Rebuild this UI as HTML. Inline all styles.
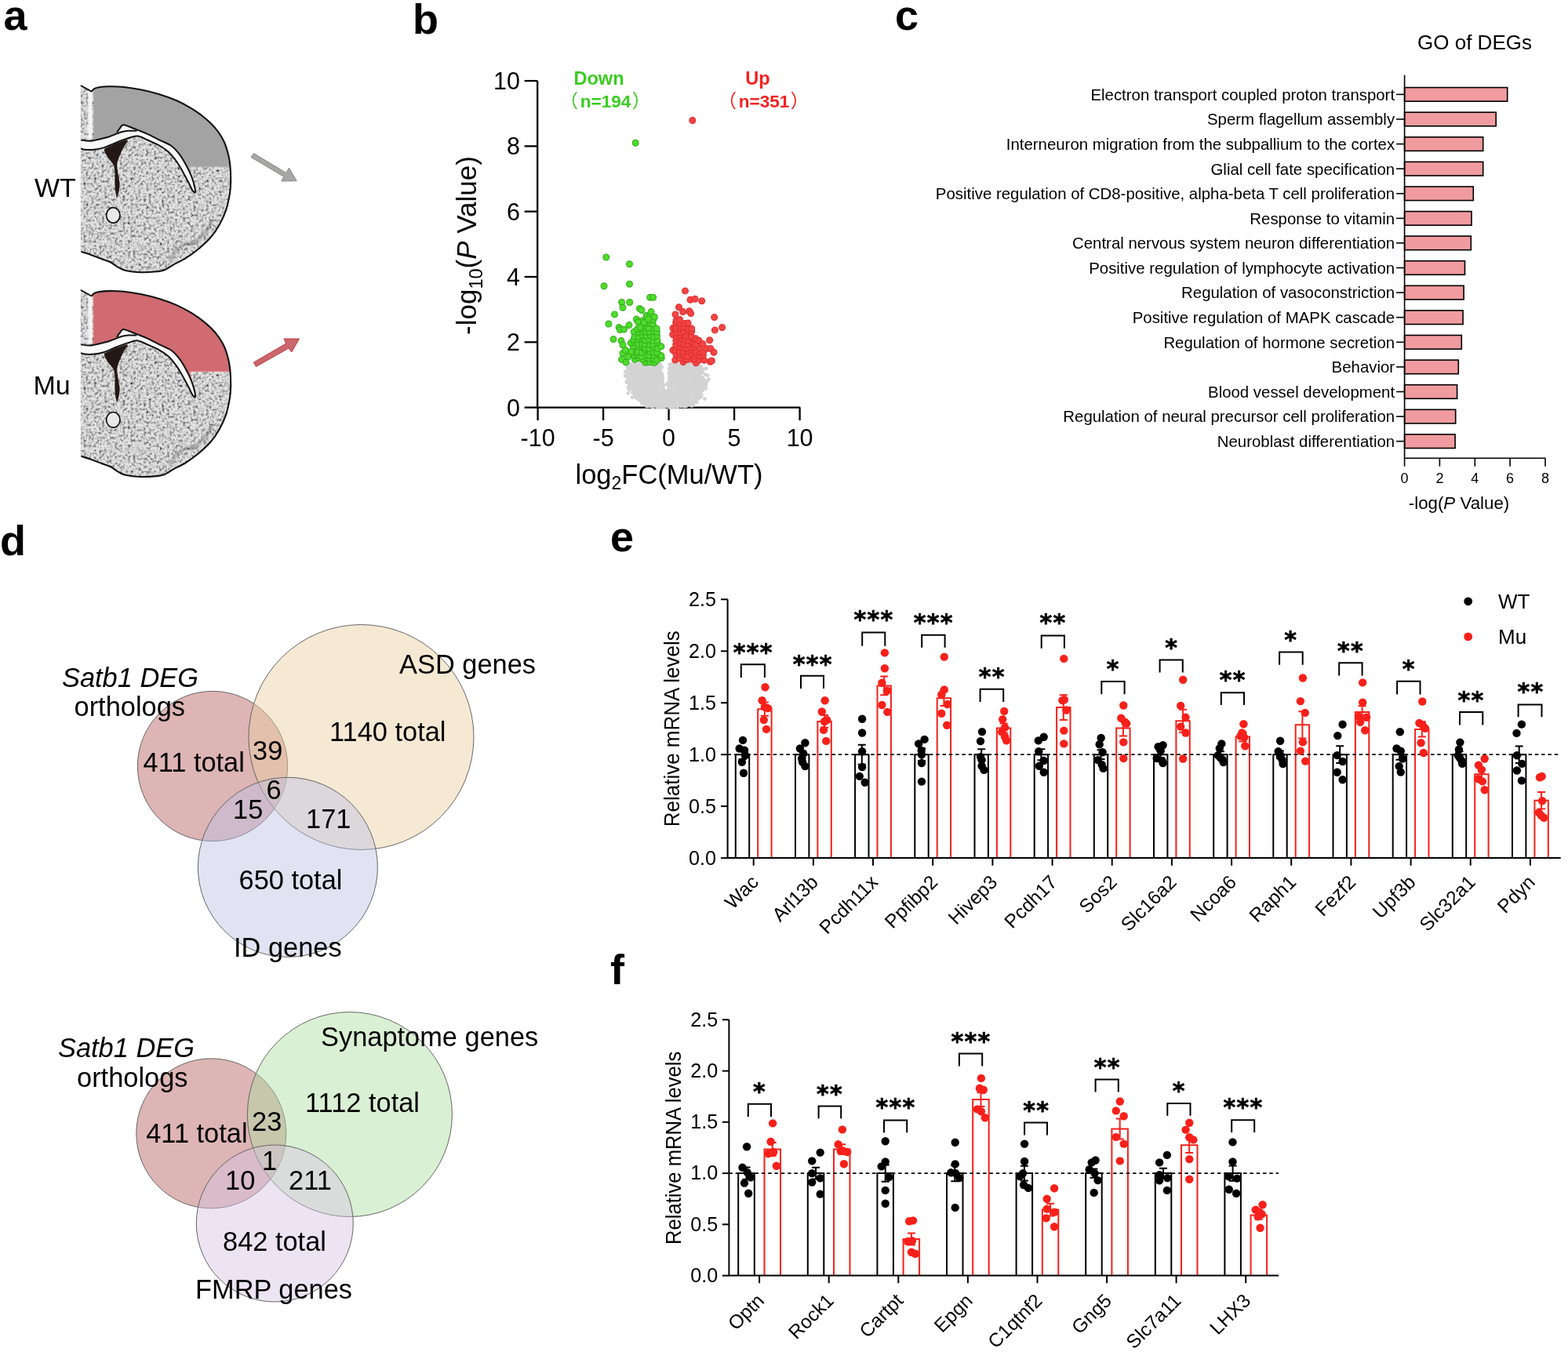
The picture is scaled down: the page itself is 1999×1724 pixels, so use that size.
<!DOCTYPE html>
<html><head><meta charset="utf-8"><title>Figure</title>
<style>html,body{margin:0;padding:0;background:#fff;overflow:hidden}svg{display:block}</style></head>
<body><svg xmlns="http://www.w3.org/2000/svg" width="1999" height="1724" viewBox="0 0 1999 1724">
<defs>
<filter id="stip" x="0" y="0" width="1" height="1">
<feTurbulence type="fractalNoise" baseFrequency="0.3" numOctaves="3" seed="4" result="t"/>
<feColorMatrix in="t" type="matrix" values="0 0 0 0 0  0 0 0 0 0  0 0 0 0 0  -2.2 0 0 0 1.3" result="dk"/>
<feComposite in="dk" in2="SourceAlpha" operator="in" result="d2"/>
<feMerge><feMergeNode in="SourceGraphic"/><feMergeNode in="d2"/></feMerge>
</filter>
<filter id="blur1"><feGaussianBlur stdDeviation="1.2"/></filter>
<path id="bOut" d="M117.1 116.9C117.5 116.4 117.9 114.5 119.4 113.6C120.9 112.7 123.0 111.8 126.2 111.3C129.3 110.8 133.0 110.3 138.3 110.3C143.6 110.2 150.9 110.3 157.9 111.0C164.9 111.7 173.0 113.0 180.5 114.5C188.0 116.0 195.7 118.0 203.1 120.3C210.5 122.6 218.5 125.4 225.2 128.3C231.8 131.2 237.6 134.4 243.0 137.6C248.4 140.8 253.2 144.2 257.5 147.5C261.8 150.8 265.5 154.0 269.0 157.5C272.5 161.0 275.7 164.6 278.5 168.5C281.3 172.4 283.8 176.6 285.8 181.0C287.8 185.4 289.2 190.2 290.5 195.0C291.8 199.8 292.7 204.2 293.3 210.0C293.9 215.8 294.2 223.9 294.2 230.0C294.1 236.1 294.0 240.1 293.0 246.3C292.0 252.5 290.5 260.7 288.3 267.3C286.1 273.9 283.2 280.2 279.9 286.2C276.6 292.1 272.9 297.8 268.3 303.0C263.8 308.2 257.9 313.3 252.6 317.7C247.3 322.1 242.1 325.9 236.8 329.2C231.5 332.5 225.6 335.1 221.0 337.6C216.4 340.2 212.5 343.1 209.0 344.5C205.5 345.9 205.0 345.8 200.0 346.2C195.0 346.6 185.7 347.4 179.0 347.2C172.3 347.0 164.8 346.1 160.1 345.0C155.4 343.9 154.0 342.6 150.7 340.8C147.4 339.0 143.7 335.8 140.2 334.0C136.7 332.2 133.7 331.8 129.7 330.3C125.7 328.8 120.4 326.6 116.0 325.0C111.6 323.4 105.5 321.6 103.4 320.9L102.8 320.9L102.8 109Z"/>
<path id="bCtx" d="M119.2 113.8C119.2 113.8 118.2 114.0 119.4 113.6C120.6 113.2 123.0 111.8 126.2 111.3C129.3 110.8 133.0 110.3 138.3 110.3C143.6 110.2 150.9 110.3 157.9 111.0C164.9 111.7 173.0 113.0 180.5 114.5C188.0 116.0 195.7 118.0 203.1 120.3C210.5 122.6 218.5 125.4 225.2 128.3C231.8 131.2 237.6 134.4 243.0 137.6C248.4 140.8 253.2 144.2 257.5 147.5C261.8 150.8 265.5 154.0 269.0 157.5C272.5 161.0 275.7 164.6 278.5 168.5C281.3 172.4 283.8 176.6 285.8 181.0C287.8 185.4 289.2 190.2 290.5 195.0C291.8 199.8 292.8 207.0 293.3 210.0C293.8 213.0 293.6 212.3 293.7 212.8L241.6 212.8L248.5 240.0L244.5 226.0L237.0 210.0L228.5 196.4L218.4 186.0L204.0 178.8L188.0 170.8L175.2 165.6L164.0 161.2L156.8 159.2L152.8 163.6L148.8 169.2L140.0 174.0L128.0 177.2L119.2 178.0Z"/>
<path id="bBand" d="M103.2 178.4L114.4 179.8L128.0 177.2L140.0 174.0L148.0 170.8L148.8 169.2L152.8 163.6L156.8 159.2L164.0 161.2L175.2 165.6L188.0 170.8L204.0 178.8L218.4 186.0L228.5 196.4L237.0 210.0L244.5 226.0L248.5 240.0L249.0 246.0L249.0 246.0L245.5 243.0L240.5 233.0L233.5 220.0L225.5 206.5L214.5 193.5L203.0 185.5L188.0 178.5L176.0 173.6L168.0 174.8L156.0 178.8L144.0 183.6L132.0 188.4L120.0 190.8L108.0 190.8L103.2 189.2Z"/>
</defs>
<rect width="1999" height="1724" fill="#fff"/>
<text x="4.5" y="37.8" style="font:bold 54px 'Liberation Sans', Arial, sans-serif">a</text>
<text x="526.0" y="42.8" style="font:bold 54px 'Liberation Sans', Arial, sans-serif">b</text>
<text x="1141.0" y="37.8" style="font:bold 54px 'Liberation Sans', Arial, sans-serif">c</text>
<text x="0.0" y="707.5" style="font:bold 54px 'Liberation Sans', Arial, sans-serif">d</text>
<text x="778.0" y="702.5" style="font:bold 54px 'Liberation Sans', Arial, sans-serif">e</text>
<text x="778.0" y="1255.0" style="font:bold 54px 'Liberation Sans', Arial, sans-serif">f</text>
<g transform="translate(0 0.0)">
<use href="#bOut" fill="#e3e3e3" filter="url(#stip)"/>
<path d="M216 333L220 326L226 318L234 312L244.5 310L251.5 306.5L258.5 299.5L265 291L270.4 283.4" fill="none" stroke="#555" stroke-width="5" opacity="0.3" filter="url(#blur1)"/>
<rect x="112.4" y="115" width="5.4" height="62" fill="#f6f6f6" opacity="0.92"/>
<use href="#bCtx" fill="#a3a3a3" stroke="#bcbcbc" stroke-width="0.9"/>
<use href="#bBand" fill="#f8f8f8"/>
<path d="M103.2 178.4C105.1 178.6 110.3 180.0 114.4 179.8C118.5 179.6 123.7 178.2 128.0 177.2C132.3 176.2 136.7 175.1 140.0 174.0C143.3 172.9 145.3 171.8 148.0 170.8C150.7 169.8 153.3 168.7 156.0 168.0C158.7 167.3 160.9 167.0 164.0 166.8C167.1 166.6 172.7 166.8 174.4 166.8" fill="none" stroke="#111" stroke-width="2"/>
<path d="M148.8 169.2C149.5 168.3 151.5 165.3 152.8 163.6C154.1 161.9 154.9 159.6 156.8 159.2C158.7 158.8 160.9 160.1 164.0 161.2C167.1 162.3 171.2 164.0 175.2 165.6C179.2 167.2 183.2 168.6 188.0 170.8C192.8 173.0 198.9 176.3 204.0 178.8C209.1 181.3 214.3 183.1 218.4 186.0C222.5 188.9 225.4 192.4 228.5 196.4C231.6 200.4 234.3 205.1 237.0 210.0C239.7 214.9 242.6 221.0 244.5 226.0C246.4 231.0 247.8 236.7 248.5 240.0C249.2 243.3 248.9 245.0 249.0 246.0" fill="none" stroke="#111" stroke-width="2"/>
<path d="M103.2 189.2C104.0 189.5 105.2 190.5 108.0 190.8C110.8 191.1 116.0 191.2 120.0 190.8C124.0 190.4 128.0 189.6 132.0 188.4C136.0 187.2 140.0 185.2 144.0 183.6C148.0 182.0 152.0 180.3 156.0 178.8C160.0 177.3 164.7 175.7 168.0 174.8C171.3 173.9 172.7 173.0 176.0 173.6C179.3 174.2 183.5 176.5 188.0 178.5C192.5 180.5 198.6 183.0 203.0 185.5C207.4 188.0 210.8 190.0 214.5 193.5C218.2 197.0 222.3 202.1 225.5 206.5C228.7 210.9 231.0 215.6 233.5 220.0C236.0 224.4 238.5 229.2 240.5 233.0C242.5 236.8 244.1 240.8 245.5 243.0C246.9 245.2 248.4 245.5 249.0 246.0" fill="none" stroke="#111" stroke-width="2"/>
<path d="M133.2 190.0C134.2 188.9 141.9 185.6 144.8 184.4C147.7 183.2 161.2 177.8 162.4 178.4C163.6 179.0 157.6 187.6 156.5 190.0C155.4 192.4 151.9 200.0 151.2 202.0C150.5 204.0 149.3 208.0 149.2 210.0C149.1 212.0 150.3 219.6 150.6 222.0C150.9 224.4 152.5 231.9 152.6 234.0C152.7 236.1 152.2 241.2 151.8 243.0C151.4 244.8 149.5 252.8 149.0 252.5C148.5 252.2 146.9 243.2 146.6 240.0C146.3 236.8 146.6 223.0 146.4 220.0C146.2 217.0 145.6 212.0 144.8 210.2C144.0 208.4 139.4 203.5 138.4 202.0C137.4 200.5 134.9 196.7 134.4 195.5C133.9 194.3 132.2 191.1 133.2 190.0Z" fill="#231815"/>
<ellipse cx="144.3" cy="274.5" rx="8.7" ry="9.8" fill="#e9e9e9" stroke="#111" stroke-width="1.7"/>
<path d="M102.8 109L117.1 116.9" stroke="#111" stroke-width="1.8"/>
<path d="M117.1 116.9C117.5 116.4 117.9 114.5 119.4 113.6C120.9 112.7 123.0 111.8 126.2 111.3C129.3 110.8 133.0 110.3 138.3 110.3C143.6 110.2 150.9 110.3 157.9 111.0C164.9 111.7 173.0 113.0 180.5 114.5C188.0 116.0 195.7 118.0 203.1 120.3C210.5 122.6 218.5 125.4 225.2 128.3C231.8 131.2 237.6 134.4 243.0 137.6C248.4 140.8 253.2 144.2 257.5 147.5C261.8 150.8 265.5 154.0 269.0 157.5C272.5 161.0 275.7 164.6 278.5 168.5C281.3 172.4 283.8 176.6 285.8 181.0C287.8 185.4 289.2 190.2 290.5 195.0C291.8 199.8 292.7 204.2 293.3 210.0C293.9 215.8 294.2 223.9 294.2 230.0C294.1 236.1 294.0 240.1 293.0 246.3C292.0 252.5 290.5 260.7 288.3 267.3C286.1 273.9 283.2 280.2 279.9 286.2C276.6 292.1 272.9 297.8 268.3 303.0C263.8 308.2 257.9 313.3 252.6 317.7C247.3 322.1 242.1 325.9 236.8 329.2C231.5 332.5 225.6 335.1 221.0 337.6C216.4 340.2 212.5 343.1 209.0 344.5C205.5 345.9 205.0 345.8 200.0 346.2C195.0 346.6 185.7 347.4 179.0 347.2C172.3 347.0 164.8 346.1 160.1 345.0C155.4 343.9 154.0 342.6 150.7 340.8C147.4 339.0 143.7 335.8 140.2 334.0C136.7 332.2 133.7 331.8 129.7 330.3C125.7 328.8 120.4 326.6 116.0 325.0C111.6 323.4 105.5 321.6 103.4 320.9" fill="none" stroke="#111" stroke-width="2.1"/>
</g>
<g transform="translate(0 260.8)">
<use href="#bOut" fill="#e3e3e3" filter="url(#stip)"/>
<path d="M216 333L220 326L226 318L234 312L244.5 310L251.5 306.5L258.5 299.5L265 291L270.4 283.4" fill="none" stroke="#555" stroke-width="5" opacity="0.3" filter="url(#blur1)"/>
<rect x="112.4" y="115" width="5.4" height="62" fill="#f6f6f6" opacity="0.92"/>
<use href="#bCtx" fill="#cf6b71" stroke="#f07c82" stroke-width="0.9"/>
<use href="#bBand" fill="#f8f8f8"/>
<path d="M103.2 178.4C105.1 178.6 110.3 180.0 114.4 179.8C118.5 179.6 123.7 178.2 128.0 177.2C132.3 176.2 136.7 175.1 140.0 174.0C143.3 172.9 145.3 171.8 148.0 170.8C150.7 169.8 153.3 168.7 156.0 168.0C158.7 167.3 160.9 167.0 164.0 166.8C167.1 166.6 172.7 166.8 174.4 166.8" fill="none" stroke="#111" stroke-width="2"/>
<path d="M148.8 169.2C149.5 168.3 151.5 165.3 152.8 163.6C154.1 161.9 154.9 159.6 156.8 159.2C158.7 158.8 160.9 160.1 164.0 161.2C167.1 162.3 171.2 164.0 175.2 165.6C179.2 167.2 183.2 168.6 188.0 170.8C192.8 173.0 198.9 176.3 204.0 178.8C209.1 181.3 214.3 183.1 218.4 186.0C222.5 188.9 225.4 192.4 228.5 196.4C231.6 200.4 234.3 205.1 237.0 210.0C239.7 214.9 242.6 221.0 244.5 226.0C246.4 231.0 247.8 236.7 248.5 240.0C249.2 243.3 248.9 245.0 249.0 246.0" fill="none" stroke="#111" stroke-width="2"/>
<path d="M103.2 189.2C104.0 189.5 105.2 190.5 108.0 190.8C110.8 191.1 116.0 191.2 120.0 190.8C124.0 190.4 128.0 189.6 132.0 188.4C136.0 187.2 140.0 185.2 144.0 183.6C148.0 182.0 152.0 180.3 156.0 178.8C160.0 177.3 164.7 175.7 168.0 174.8C171.3 173.9 172.7 173.0 176.0 173.6C179.3 174.2 183.5 176.5 188.0 178.5C192.5 180.5 198.6 183.0 203.0 185.5C207.4 188.0 210.8 190.0 214.5 193.5C218.2 197.0 222.3 202.1 225.5 206.5C228.7 210.9 231.0 215.6 233.5 220.0C236.0 224.4 238.5 229.2 240.5 233.0C242.5 236.8 244.1 240.8 245.5 243.0C246.9 245.2 248.4 245.5 249.0 246.0" fill="none" stroke="#111" stroke-width="2"/>
<path d="M133.2 190.0C134.2 188.9 141.9 185.6 144.8 184.4C147.7 183.2 161.2 177.8 162.4 178.4C163.6 179.0 157.6 187.6 156.5 190.0C155.4 192.4 151.9 200.0 151.2 202.0C150.5 204.0 149.3 208.0 149.2 210.0C149.1 212.0 150.3 219.6 150.6 222.0C150.9 224.4 152.5 231.9 152.6 234.0C152.7 236.1 152.2 241.2 151.8 243.0C151.4 244.8 149.5 252.8 149.0 252.5C148.5 252.2 146.9 243.2 146.6 240.0C146.3 236.8 146.6 223.0 146.4 220.0C146.2 217.0 145.6 212.0 144.8 210.2C144.0 208.4 139.4 203.5 138.4 202.0C137.4 200.5 134.9 196.7 134.4 195.5C133.9 194.3 132.2 191.1 133.2 190.0Z" fill="#231815"/>
<ellipse cx="144.3" cy="274.5" rx="8.7" ry="9.8" fill="#e9e9e9" stroke="#111" stroke-width="1.7"/>
<path d="M102.8 109L117.1 116.9" stroke="#111" stroke-width="1.8"/>
<path d="M117.1 116.9C117.5 116.4 117.9 114.5 119.4 113.6C120.9 112.7 123.0 111.8 126.2 111.3C129.3 110.8 133.0 110.3 138.3 110.3C143.6 110.2 150.9 110.3 157.9 111.0C164.9 111.7 173.0 113.0 180.5 114.5C188.0 116.0 195.7 118.0 203.1 120.3C210.5 122.6 218.5 125.4 225.2 128.3C231.8 131.2 237.6 134.4 243.0 137.6C248.4 140.8 253.2 144.2 257.5 147.5C261.8 150.8 265.5 154.0 269.0 157.5C272.5 161.0 275.7 164.6 278.5 168.5C281.3 172.4 283.8 176.6 285.8 181.0C287.8 185.4 289.2 190.2 290.5 195.0C291.8 199.8 292.7 204.2 293.3 210.0C293.9 215.8 294.2 223.9 294.2 230.0C294.1 236.1 294.0 240.1 293.0 246.3C292.0 252.5 290.5 260.7 288.3 267.3C286.1 273.9 283.2 280.2 279.9 286.2C276.6 292.1 272.9 297.8 268.3 303.0C263.8 308.2 257.9 313.3 252.6 317.7C247.3 322.1 242.1 325.9 236.8 329.2C231.5 332.5 225.6 335.1 221.0 337.6C216.4 340.2 212.5 343.1 209.0 344.5C205.5 345.9 205.0 345.8 200.0 346.2C195.0 346.6 185.7 347.4 179.0 347.2C172.3 347.0 164.8 346.1 160.1 345.0C155.4 343.9 154.0 342.6 150.7 340.8C147.4 339.0 143.7 335.8 140.2 334.0C136.7 332.2 133.7 331.8 129.7 330.3C125.7 328.8 120.4 326.6 116.0 325.0C111.6 323.4 105.5 321.6 103.4 320.9" fill="none" stroke="#111" stroke-width="2.1"/>
</g>
<text x="44" y="250.5" style="font:34px 'Liberation Sans', Arial, sans-serif">WT</text>
<text x="42.5" y="502.9" style="font:34px 'Liberation Sans', Arial, sans-serif">Mu</text>
<path d="M323.5 195.5L365 220.5L368.5 214L378.25 230.75L358.75 231L361.75 225.25L320 200.5Z" fill="#a6a7a5" stroke="#7a7a7a" stroke-width="0.8"/>
<path d="M323.25 462.25L364.75 438L362 432L381.5 432L371.75 449L368 444L326.5 467.5Z" fill="#c9686c" stroke="#c0282c" stroke-width="0.9"/>
<path d="M685.2 103.1V519.6H1020.3" stroke="#000" stroke-width="2.3" fill="none"/>
<line x1="668.6" y1="519.6" x2="685.2" y2="519.6" stroke="#000" stroke-width="2.3"/>
<text x="663" y="530.5" text-anchor="end" style="font:30.5px 'Liberation Sans', Arial, sans-serif">0</text>
<line x1="668.6" y1="436.3" x2="685.2" y2="436.3" stroke="#000" stroke-width="2.3"/>
<text x="663" y="447.2" text-anchor="end" style="font:30.5px 'Liberation Sans', Arial, sans-serif">2</text>
<line x1="668.6" y1="353.0" x2="685.2" y2="353.0" stroke="#000" stroke-width="2.3"/>
<text x="663" y="363.9" text-anchor="end" style="font:30.5px 'Liberation Sans', Arial, sans-serif">4</text>
<line x1="668.6" y1="269.7" x2="685.2" y2="269.7" stroke="#000" stroke-width="2.3"/>
<text x="663" y="280.6" text-anchor="end" style="font:30.5px 'Liberation Sans', Arial, sans-serif">6</text>
<line x1="668.6" y1="186.4" x2="685.2" y2="186.4" stroke="#000" stroke-width="2.3"/>
<text x="663" y="197.3" text-anchor="end" style="font:30.5px 'Liberation Sans', Arial, sans-serif">8</text>
<line x1="668.6" y1="103.1" x2="685.2" y2="103.1" stroke="#000" stroke-width="2.3"/>
<text x="663" y="114.0" text-anchor="end" style="font:30.5px 'Liberation Sans', Arial, sans-serif">10</text>
<line x1="685.6" y1="519.6" x2="685.6" y2="536" stroke="#000" stroke-width="2.3"/>
<text x="685.6" y="569" text-anchor="middle" style="font:30.5px 'Liberation Sans', Arial, sans-serif">-10</text>
<line x1="769.1" y1="519.6" x2="769.1" y2="536" stroke="#000" stroke-width="2.3"/>
<text x="769.1" y="569" text-anchor="middle" style="font:30.5px 'Liberation Sans', Arial, sans-serif">-5</text>
<line x1="852.6" y1="519.6" x2="852.6" y2="536" stroke="#000" stroke-width="2.3"/>
<text x="852.6" y="569" text-anchor="middle" style="font:30.5px 'Liberation Sans', Arial, sans-serif">0</text>
<line x1="936.1" y1="519.6" x2="936.1" y2="536" stroke="#000" stroke-width="2.3"/>
<text x="936.1" y="569" text-anchor="middle" style="font:30.5px 'Liberation Sans', Arial, sans-serif">5</text>
<line x1="1019.6" y1="519.6" x2="1019.6" y2="536" stroke="#000" stroke-width="2.3"/>
<text x="1019.6" y="569" text-anchor="middle" style="font:30.5px 'Liberation Sans', Arial, sans-serif">10</text>
<g fill="#d3d3d3"><circle cx="824.8" cy="518.2" r="2.4"/><circle cx="828.0" cy="517.7" r="2.4"/><circle cx="830.7" cy="517.7" r="2.4"/><circle cx="832.2" cy="518.9" r="2.4"/><circle cx="836.8" cy="518.4" r="2.4"/><circle cx="839.6" cy="519.6" r="2.4"/><circle cx="841.6" cy="519.4" r="2.4"/><circle cx="844.5" cy="518.6" r="2.4"/><circle cx="846.3" cy="519.5" r="2.4"/><circle cx="849.7" cy="517.7" r="2.4"/><circle cx="853.5" cy="519.6" r="2.4"/><circle cx="856.4" cy="519.6" r="2.4"/><circle cx="858.9" cy="519.6" r="2.4"/><circle cx="860.5" cy="517.8" r="2.4"/><circle cx="863.7" cy="519.5" r="2.4"/><circle cx="868.1" cy="517.8" r="2.4"/><circle cx="869.6" cy="517.6" r="2.4"/><circle cx="872.9" cy="518.3" r="2.4"/><circle cx="875.1" cy="517.7" r="2.4"/><circle cx="821.8" cy="514.9" r="2.4"/><circle cx="825.1" cy="516.6" r="2.4"/><circle cx="826.8" cy="516.9" r="2.4"/><circle cx="829.3" cy="517.1" r="2.4"/><circle cx="832.4" cy="515.8" r="2.4"/><circle cx="834.6" cy="515.6" r="2.4"/><circle cx="838.2" cy="516.5" r="2.4"/><circle cx="842.0" cy="516.1" r="2.4"/><circle cx="843.8" cy="516.1" r="2.4"/><circle cx="847.4" cy="517.2" r="2.4"/><circle cx="850.8" cy="517.3" r="2.4"/><circle cx="853.2" cy="515.2" r="2.4"/><circle cx="854.6" cy="515.3" r="2.4"/><circle cx="858.1" cy="515.9" r="2.4"/><circle cx="860.2" cy="517.2" r="2.4"/><circle cx="863.4" cy="514.9" r="2.4"/><circle cx="866.3" cy="515.4" r="2.4"/><circle cx="870.6" cy="515.0" r="2.4"/><circle cx="872.2" cy="516.4" r="2.4"/><circle cx="875.4" cy="515.4" r="2.4"/><circle cx="877.4" cy="515.4" r="2.4"/><circle cx="818.7" cy="512.5" r="2.4"/><circle cx="820.0" cy="512.2" r="2.4"/><circle cx="823.0" cy="513.8" r="2.4"/><circle cx="826.8" cy="512.3" r="2.4"/><circle cx="829.1" cy="512.3" r="2.4"/><circle cx="832.4" cy="513.8" r="2.4"/><circle cx="834.8" cy="514.2" r="2.4"/><circle cx="837.1" cy="514.2" r="2.4"/><circle cx="841.2" cy="512.1" r="2.4"/><circle cx="843.0" cy="514.5" r="2.4"/><circle cx="847.5" cy="513.3" r="2.4"/><circle cx="849.1" cy="514.0" r="2.4"/><circle cx="852.4" cy="512.5" r="2.4"/><circle cx="854.9" cy="513.5" r="2.4"/><circle cx="857.0" cy="512.3" r="2.4"/><circle cx="859.8" cy="513.4" r="2.4"/><circle cx="864.2" cy="514.3" r="2.4"/><circle cx="866.8" cy="512.2" r="2.4"/><circle cx="869.5" cy="512.6" r="2.4"/><circle cx="871.3" cy="513.5" r="2.4"/><circle cx="874.2" cy="512.5" r="2.4"/><circle cx="877.3" cy="513.5" r="2.4"/><circle cx="881.6" cy="512.5" r="2.4"/><circle cx="884.4" cy="513.5" r="2.4"/><circle cx="814.8" cy="510.1" r="2.4"/><circle cx="817.7" cy="511.2" r="2.4"/><circle cx="820.4" cy="511.5" r="2.4"/><circle cx="823.1" cy="509.4" r="2.4"/><circle cx="827.1" cy="510.3" r="2.4"/><circle cx="829.1" cy="511.0" r="2.4"/><circle cx="831.1" cy="511.2" r="2.4"/><circle cx="835.3" cy="509.7" r="2.4"/><circle cx="837.3" cy="509.9" r="2.4"/><circle cx="841.0" cy="510.2" r="2.4"/><circle cx="843.6" cy="510.0" r="2.4"/><circle cx="845.8" cy="510.1" r="2.4"/><circle cx="848.5" cy="510.7" r="2.4"/><circle cx="852.3" cy="510.2" r="2.4"/><circle cx="854.2" cy="509.5" r="2.4"/><circle cx="857.8" cy="510.4" r="2.4"/><circle cx="859.3" cy="510.5" r="2.4"/><circle cx="862.6" cy="510.2" r="2.4"/><circle cx="865.9" cy="509.9" r="2.4"/><circle cx="869.1" cy="509.9" r="2.4"/><circle cx="871.3" cy="510.3" r="2.4"/><circle cx="875.0" cy="509.8" r="2.4"/><circle cx="877.0" cy="509.8" r="2.4"/><circle cx="880.9" cy="510.2" r="2.4"/><circle cx="884.0" cy="509.5" r="2.4"/><circle cx="885.9" cy="510.6" r="2.4"/><circle cx="812.2" cy="507.1" r="2.4"/><circle cx="816.6" cy="508.0" r="2.4"/><circle cx="818.9" cy="507.4" r="2.4"/><circle cx="821.9" cy="508.8" r="2.4"/><circle cx="824.8" cy="507.7" r="2.4"/><circle cx="827.4" cy="508.1" r="2.4"/><circle cx="830.2" cy="507.3" r="2.4"/><circle cx="833.0" cy="507.4" r="2.4"/><circle cx="834.6" cy="508.8" r="2.4"/><circle cx="838.3" cy="507.6" r="2.4"/><circle cx="840.7" cy="507.5" r="2.4"/><circle cx="844.4" cy="509.1" r="2.4"/><circle cx="846.9" cy="508.6" r="2.4"/><circle cx="848.9" cy="508.9" r="2.4"/><circle cx="852.3" cy="508.7" r="2.4"/><circle cx="854.8" cy="509.1" r="2.4"/><circle cx="858.2" cy="508.2" r="2.4"/><circle cx="861.4" cy="507.7" r="2.4"/><circle cx="863.4" cy="506.9" r="2.4"/><circle cx="865.8" cy="508.2" r="2.4"/><circle cx="869.2" cy="508.2" r="2.4"/><circle cx="871.7" cy="507.1" r="2.4"/><circle cx="875.1" cy="509.1" r="2.4"/><circle cx="878.4" cy="509.0" r="2.4"/><circle cx="881.1" cy="508.3" r="2.4"/><circle cx="884.0" cy="506.8" r="2.4"/><circle cx="887.3" cy="508.1" r="2.4"/><circle cx="811.5" cy="504.9" r="2.4"/><circle cx="813.4" cy="506.1" r="2.4"/><circle cx="816.7" cy="505.1" r="2.4"/><circle cx="820.3" cy="504.1" r="2.4"/><circle cx="822.4" cy="505.6" r="2.4"/><circle cx="825.9" cy="506.5" r="2.4"/><circle cx="827.1" cy="505.1" r="2.4"/><circle cx="831.0" cy="506.1" r="2.4"/><circle cx="833.8" cy="504.3" r="2.4"/><circle cx="836.2" cy="505.4" r="2.4"/><circle cx="838.7" cy="505.8" r="2.4"/><circle cx="843.0" cy="505.5" r="2.4"/><circle cx="845.9" cy="504.2" r="2.4"/><circle cx="848.0" cy="505.8" r="2.4"/><circle cx="851.6" cy="505.2" r="2.4"/><circle cx="853.3" cy="505.7" r="2.4"/><circle cx="857.3" cy="505.3" r="2.4"/><circle cx="858.7" cy="505.3" r="2.4"/><circle cx="861.2" cy="504.9" r="2.4"/><circle cx="864.7" cy="505.7" r="2.4"/><circle cx="868.2" cy="504.4" r="2.4"/><circle cx="869.5" cy="505.1" r="2.4"/><circle cx="872.9" cy="504.1" r="2.4"/><circle cx="876.7" cy="505.9" r="2.4"/><circle cx="878.5" cy="506.1" r="2.4"/><circle cx="882.8" cy="505.7" r="2.4"/><circle cx="884.9" cy="505.3" r="2.4"/><circle cx="887.8" cy="505.0" r="2.4"/><circle cx="890.9" cy="506.2" r="2.4"/><circle cx="809.6" cy="503.0" r="2.4"/><circle cx="812.0" cy="502.9" r="2.4"/><circle cx="814.3" cy="502.4" r="2.4"/><circle cx="817.5" cy="502.9" r="2.4"/><circle cx="820.9" cy="502.3" r="2.4"/><circle cx="822.3" cy="503.1" r="2.4"/><circle cx="826.0" cy="501.5" r="2.4"/><circle cx="829.7" cy="502.4" r="2.4"/><circle cx="830.8" cy="501.8" r="2.4"/><circle cx="834.5" cy="502.3" r="2.4"/><circle cx="837.9" cy="502.2" r="2.4"/><circle cx="840.2" cy="501.5" r="2.4"/><circle cx="842.9" cy="502.8" r="2.4"/><circle cx="846.7" cy="503.3" r="2.4"/><circle cx="848.4" cy="501.7" r="2.4"/><circle cx="850.8" cy="501.7" r="2.4"/><circle cx="854.9" cy="502.7" r="2.4"/><circle cx="856.9" cy="501.8" r="2.4"/><circle cx="861.0" cy="503.4" r="2.4"/><circle cx="863.0" cy="502.4" r="2.4"/><circle cx="865.8" cy="502.9" r="2.4"/><circle cx="868.0" cy="502.3" r="2.4"/><circle cx="872.1" cy="503.6" r="2.4"/><circle cx="873.8" cy="501.7" r="2.4"/><circle cx="877.8" cy="502.1" r="2.4"/><circle cx="879.1" cy="502.0" r="2.4"/><circle cx="883.8" cy="501.3" r="2.4"/><circle cx="886.1" cy="503.7" r="2.4"/><circle cx="889.2" cy="503.2" r="2.4"/><circle cx="891.7" cy="501.4" r="2.4"/><circle cx="808.7" cy="500.7" r="2.4"/><circle cx="810.7" cy="498.8" r="2.4"/><circle cx="813.2" cy="499.5" r="2.4"/><circle cx="816.6" cy="500.7" r="2.4"/><circle cx="819.8" cy="501.0" r="2.4"/><circle cx="821.7" cy="500.1" r="2.4"/><circle cx="824.4" cy="500.9" r="2.4"/><circle cx="828.3" cy="499.2" r="2.4"/><circle cx="831.7" cy="500.7" r="2.4"/><circle cx="833.7" cy="500.3" r="2.4"/><circle cx="836.8" cy="499.8" r="2.4"/><circle cx="840.3" cy="500.1" r="2.4"/><circle cx="841.4" cy="499.3" r="2.4"/><circle cx="844.4" cy="499.5" r="2.4"/><circle cx="848.0" cy="498.8" r="2.4"/><circle cx="850.9" cy="499.5" r="2.4"/><circle cx="853.2" cy="499.7" r="2.4"/><circle cx="856.0" cy="499.2" r="2.4"/><circle cx="859.4" cy="500.7" r="2.4"/><circle cx="861.6" cy="500.1" r="2.4"/><circle cx="865.5" cy="500.6" r="2.4"/><circle cx="868.3" cy="499.4" r="2.4"/><circle cx="869.9" cy="499.4" r="2.4"/><circle cx="872.7" cy="500.8" r="2.4"/><circle cx="876.6" cy="500.5" r="2.4"/><circle cx="880.0" cy="499.9" r="2.4"/><circle cx="881.7" cy="499.1" r="2.4"/><circle cx="884.0" cy="499.3" r="2.4"/><circle cx="886.8" cy="500.7" r="2.4"/><circle cx="891.5" cy="499.4" r="2.4"/><circle cx="892.9" cy="500.8" r="2.4"/><circle cx="808.4" cy="496.7" r="2.4"/><circle cx="810.9" cy="498.0" r="2.4"/><circle cx="813.4" cy="497.5" r="2.4"/><circle cx="815.4" cy="497.5" r="2.4"/><circle cx="819.0" cy="497.5" r="2.4"/><circle cx="821.4" cy="498.0" r="2.4"/><circle cx="825.1" cy="496.7" r="2.4"/><circle cx="827.9" cy="497.3" r="2.4"/><circle cx="830.8" cy="497.1" r="2.4"/><circle cx="833.2" cy="496.9" r="2.4"/><circle cx="836.3" cy="497.4" r="2.4"/><circle cx="837.8" cy="498.3" r="2.4"/><circle cx="840.9" cy="498.3" r="2.4"/><circle cx="845.1" cy="497.2" r="2.4"/><circle cx="850.5" cy="498.4" r="2.4"/><circle cx="852.8" cy="496.1" r="2.4"/><circle cx="855.9" cy="497.3" r="2.4"/><circle cx="858.5" cy="498.1" r="2.4"/><circle cx="860.7" cy="498.0" r="2.4"/><circle cx="864.0" cy="497.4" r="2.4"/><circle cx="867.8" cy="498.0" r="2.4"/><circle cx="869.4" cy="497.7" r="2.4"/><circle cx="872.0" cy="497.6" r="2.4"/><circle cx="875.0" cy="497.2" r="2.4"/><circle cx="877.5" cy="496.0" r="2.4"/><circle cx="881.0" cy="496.0" r="2.4"/><circle cx="884.5" cy="496.7" r="2.4"/><circle cx="886.9" cy="496.0" r="2.4"/><circle cx="889.0" cy="496.7" r="2.4"/><circle cx="892.2" cy="496.7" r="2.4"/><circle cx="895.9" cy="498.0" r="2.4"/><circle cx="806.0" cy="495.6" r="2.4"/><circle cx="808.9" cy="495.5" r="2.4"/><circle cx="812.1" cy="493.2" r="2.4"/><circle cx="814.9" cy="494.9" r="2.4"/><circle cx="817.9" cy="494.9" r="2.4"/><circle cx="821.3" cy="493.9" r="2.4"/><circle cx="823.0" cy="495.1" r="2.4"/><circle cx="826.8" cy="493.3" r="2.4"/><circle cx="829.6" cy="494.6" r="2.4"/><circle cx="833.1" cy="495.6" r="2.4"/><circle cx="834.1" cy="493.7" r="2.4"/><circle cx="837.7" cy="495.5" r="2.4"/><circle cx="840.8" cy="493.2" r="2.4"/><circle cx="843.6" cy="494.8" r="2.4"/><circle cx="845.5" cy="495.5" r="2.4"/><circle cx="852.8" cy="494.4" r="2.4"/><circle cx="855.7" cy="495.5" r="2.4"/><circle cx="857.2" cy="495.5" r="2.4"/><circle cx="860.3" cy="495.5" r="2.4"/><circle cx="862.9" cy="494.6" r="2.4"/><circle cx="865.8" cy="495.5" r="2.4"/><circle cx="868.1" cy="493.2" r="2.4"/><circle cx="871.3" cy="494.4" r="2.4"/><circle cx="874.5" cy="494.3" r="2.4"/><circle cx="876.8" cy="494.9" r="2.4"/><circle cx="879.6" cy="494.3" r="2.4"/><circle cx="884.1" cy="494.2" r="2.4"/><circle cx="886.8" cy="495.1" r="2.4"/><circle cx="888.0" cy="494.3" r="2.4"/><circle cx="891.8" cy="494.2" r="2.4"/><circle cx="894.4" cy="494.1" r="2.4"/><circle cx="806.2" cy="490.7" r="2.4"/><circle cx="808.2" cy="491.8" r="2.4"/><circle cx="812.1" cy="492.4" r="2.4"/><circle cx="813.5" cy="492.2" r="2.4"/><circle cx="816.3" cy="491.0" r="2.4"/><circle cx="820.6" cy="492.2" r="2.4"/><circle cx="822.0" cy="492.7" r="2.4"/><circle cx="825.1" cy="492.7" r="2.4"/><circle cx="828.3" cy="491.5" r="2.4"/><circle cx="830.8" cy="492.8" r="2.4"/><circle cx="834.5" cy="492.8" r="2.4"/><circle cx="836.4" cy="492.2" r="2.4"/><circle cx="839.6" cy="492.7" r="2.4"/><circle cx="842.5" cy="492.2" r="2.4"/><circle cx="846.0" cy="491.6" r="2.4"/><circle cx="852.0" cy="491.3" r="2.4"/><circle cx="854.5" cy="491.5" r="2.4"/><circle cx="856.7" cy="490.9" r="2.4"/><circle cx="860.0" cy="490.6" r="2.4"/><circle cx="863.0" cy="491.2" r="2.4"/><circle cx="864.9" cy="490.9" r="2.4"/><circle cx="868.0" cy="492.6" r="2.4"/><circle cx="870.2" cy="492.5" r="2.4"/><circle cx="873.4" cy="491.3" r="2.4"/><circle cx="876.3" cy="492.8" r="2.4"/><circle cx="880.1" cy="491.6" r="2.4"/><circle cx="881.5" cy="492.8" r="2.4"/><circle cx="884.5" cy="492.1" r="2.4"/><circle cx="888.8" cy="490.6" r="2.4"/><circle cx="891.1" cy="492.4" r="2.4"/><circle cx="893.6" cy="492.0" r="2.4"/><circle cx="896.3" cy="492.9" r="2.4"/><circle cx="805.1" cy="488.2" r="2.4"/><circle cx="808.2" cy="490.0" r="2.4"/><circle cx="810.6" cy="489.8" r="2.4"/><circle cx="813.8" cy="489.1" r="2.4"/><circle cx="817.1" cy="488.3" r="2.4"/><circle cx="818.3" cy="489.4" r="2.4"/><circle cx="822.8" cy="489.1" r="2.4"/><circle cx="824.6" cy="489.1" r="2.4"/><circle cx="828.1" cy="487.9" r="2.4"/><circle cx="830.5" cy="487.8" r="2.4"/><circle cx="833.5" cy="490.0" r="2.4"/><circle cx="836.8" cy="489.2" r="2.4"/><circle cx="838.1" cy="487.8" r="2.4"/><circle cx="840.9" cy="488.8" r="2.4"/><circle cx="844.6" cy="488.0" r="2.4"/><circle cx="850.1" cy="489.7" r="2.4"/><circle cx="852.7" cy="489.7" r="2.4"/><circle cx="856.1" cy="489.3" r="2.4"/><circle cx="859.3" cy="489.6" r="2.4"/><circle cx="861.4" cy="489.6" r="2.4"/><circle cx="865.5" cy="488.1" r="2.4"/><circle cx="868.1" cy="488.7" r="2.4"/><circle cx="870.0" cy="489.9" r="2.4"/><circle cx="873.7" cy="489.0" r="2.4"/><circle cx="874.9" cy="489.8" r="2.4"/><circle cx="877.9" cy="488.4" r="2.4"/><circle cx="882.4" cy="489.7" r="2.4"/><circle cx="885.0" cy="489.4" r="2.4"/><circle cx="887.6" cy="488.1" r="2.4"/><circle cx="890.3" cy="488.2" r="2.4"/><circle cx="892.7" cy="490.2" r="2.4"/><circle cx="895.8" cy="488.8" r="2.4"/><circle cx="803.6" cy="486.6" r="2.4"/><circle cx="806.7" cy="487.5" r="2.4"/><circle cx="809.5" cy="486.6" r="2.4"/><circle cx="812.7" cy="485.8" r="2.4"/><circle cx="815.4" cy="485.1" r="2.4"/><circle cx="819.0" cy="485.2" r="2.4"/><circle cx="821.6" cy="485.9" r="2.4"/><circle cx="824.2" cy="485.5" r="2.4"/><circle cx="826.7" cy="486.0" r="2.4"/><circle cx="830.1" cy="486.2" r="2.4"/><circle cx="832.2" cy="487.3" r="2.4"/><circle cx="834.6" cy="486.6" r="2.4"/><circle cx="838.4" cy="485.6" r="2.4"/><circle cx="841.6" cy="486.8" r="2.4"/><circle cx="844.8" cy="486.8" r="2.4"/><circle cx="852.9" cy="487.3" r="2.4"/><circle cx="855.8" cy="485.9" r="2.4"/><circle cx="859.1" cy="485.3" r="2.4"/><circle cx="861.4" cy="485.4" r="2.4"/><circle cx="864.3" cy="486.0" r="2.4"/><circle cx="866.1" cy="486.2" r="2.4"/><circle cx="870.3" cy="486.9" r="2.4"/><circle cx="873.3" cy="486.2" r="2.4"/><circle cx="875.0" cy="487.5" r="2.4"/><circle cx="877.8" cy="487.1" r="2.4"/><circle cx="881.2" cy="485.3" r="2.4"/><circle cx="884.5" cy="486.0" r="2.4"/><circle cx="886.3" cy="487.3" r="2.4"/><circle cx="889.8" cy="486.1" r="2.4"/><circle cx="892.7" cy="486.6" r="2.4"/><circle cx="895.8" cy="487.0" r="2.4"/><circle cx="804.1" cy="484.2" r="2.4"/><circle cx="807.6" cy="482.6" r="2.4"/><circle cx="809.5" cy="483.2" r="2.4"/><circle cx="813.6" cy="484.3" r="2.4"/><circle cx="815.0" cy="483.4" r="2.4"/><circle cx="819.4" cy="482.6" r="2.4"/><circle cx="822.0" cy="483.8" r="2.4"/><circle cx="824.3" cy="483.5" r="2.4"/><circle cx="828.1" cy="484.1" r="2.4"/><circle cx="829.6" cy="483.3" r="2.4"/><circle cx="833.9" cy="484.4" r="2.4"/><circle cx="834.8" cy="484.5" r="2.4"/><circle cx="838.7" cy="483.3" r="2.4"/><circle cx="840.8" cy="484.3" r="2.4"/><circle cx="844.5" cy="483.2" r="2.4"/><circle cx="853.2" cy="483.0" r="2.4"/><circle cx="854.8" cy="483.6" r="2.4"/><circle cx="859.1" cy="482.4" r="2.4"/><circle cx="860.9" cy="482.7" r="2.4"/><circle cx="864.4" cy="482.5" r="2.4"/><circle cx="866.4" cy="483.1" r="2.4"/><circle cx="870.5" cy="483.6" r="2.4"/><circle cx="871.9" cy="484.3" r="2.4"/><circle cx="874.8" cy="484.6" r="2.4"/><circle cx="877.6" cy="483.3" r="2.4"/><circle cx="880.4" cy="482.9" r="2.4"/><circle cx="884.5" cy="482.8" r="2.4"/><circle cx="887.5" cy="483.0" r="2.4"/><circle cx="890.5" cy="482.4" r="2.4"/><circle cx="892.8" cy="482.4" r="2.4"/><circle cx="894.6" cy="484.6" r="2.4"/><circle cx="804.0" cy="481.6" r="2.4"/><circle cx="807.4" cy="481.0" r="2.4"/><circle cx="810.9" cy="480.3" r="2.4"/><circle cx="812.5" cy="481.1" r="2.4"/><circle cx="816.3" cy="481.2" r="2.4"/><circle cx="818.3" cy="480.6" r="2.4"/><circle cx="821.6" cy="480.4" r="2.4"/><circle cx="824.7" cy="479.7" r="2.4"/><circle cx="828.4" cy="481.9" r="2.4"/><circle cx="830.9" cy="480.3" r="2.4"/><circle cx="832.8" cy="481.8" r="2.4"/><circle cx="836.0" cy="481.2" r="2.4"/><circle cx="839.4" cy="479.8" r="2.4"/><circle cx="841.5" cy="481.4" r="2.4"/><circle cx="844.6" cy="480.4" r="2.4"/><circle cx="853.7" cy="480.7" r="2.4"/><circle cx="855.5" cy="481.3" r="2.4"/><circle cx="859.5" cy="480.8" r="2.4"/><circle cx="860.7" cy="481.1" r="2.4"/><circle cx="863.9" cy="480.5" r="2.4"/><circle cx="866.4" cy="481.4" r="2.4"/><circle cx="869.3" cy="480.9" r="2.4"/><circle cx="873.9" cy="480.8" r="2.4"/><circle cx="875.6" cy="479.8" r="2.4"/><circle cx="877.8" cy="481.2" r="2.4"/><circle cx="882.1" cy="482.1" r="2.4"/><circle cx="884.9" cy="481.2" r="2.4"/><circle cx="886.2" cy="481.5" r="2.4"/><circle cx="889.9" cy="481.2" r="2.4"/><circle cx="892.9" cy="482.0" r="2.4"/><circle cx="804.6" cy="477.0" r="2.4"/><circle cx="807.9" cy="478.2" r="2.4"/><circle cx="810.0" cy="478.7" r="2.4"/><circle cx="814.6" cy="477.7" r="2.4"/><circle cx="816.5" cy="479.3" r="2.4"/><circle cx="819.1" cy="477.5" r="2.4"/><circle cx="822.1" cy="477.9" r="2.4"/><circle cx="825.8" cy="477.8" r="2.4"/><circle cx="828.1" cy="479.3" r="2.4"/><circle cx="829.7" cy="477.5" r="2.4"/><circle cx="833.4" cy="477.2" r="2.4"/><circle cx="837.0" cy="477.1" r="2.4"/><circle cx="839.0" cy="476.9" r="2.4"/><circle cx="842.6" cy="477.2" r="2.4"/><circle cx="844.2" cy="477.5" r="2.4"/><circle cx="853.3" cy="477.0" r="2.4"/><circle cx="857.2" cy="478.9" r="2.4"/><circle cx="858.9" cy="478.7" r="2.4"/><circle cx="861.9" cy="478.7" r="2.4"/><circle cx="865.1" cy="479.1" r="2.4"/><circle cx="866.9" cy="478.3" r="2.4"/><circle cx="869.6" cy="478.5" r="2.4"/><circle cx="874.1" cy="477.2" r="2.4"/><circle cx="875.5" cy="479.4" r="2.4"/><circle cx="879.6" cy="477.0" r="2.4"/><circle cx="882.0" cy="479.1" r="2.4"/><circle cx="884.1" cy="477.1" r="2.4"/><circle cx="888.4" cy="479.3" r="2.4"/><circle cx="889.7" cy="478.3" r="2.4"/><circle cx="892.7" cy="477.5" r="2.4"/><circle cx="805.2" cy="474.8" r="2.4"/><circle cx="807.6" cy="475.4" r="2.4"/><circle cx="812.1" cy="474.9" r="2.4"/><circle cx="813.2" cy="476.4" r="2.4"/><circle cx="817.1" cy="475.8" r="2.4"/><circle cx="819.4" cy="475.5" r="2.4"/><circle cx="822.7" cy="474.3" r="2.4"/><circle cx="824.8" cy="475.3" r="2.4"/><circle cx="827.7" cy="475.3" r="2.4"/><circle cx="831.5" cy="476.4" r="2.4"/><circle cx="833.8" cy="474.9" r="2.4"/><circle cx="835.7" cy="474.8" r="2.4"/><circle cx="839.4" cy="475.4" r="2.4"/><circle cx="842.6" cy="474.7" r="2.4"/><circle cx="852.8" cy="475.4" r="2.4"/><circle cx="855.6" cy="475.7" r="2.4"/><circle cx="859.1" cy="476.6" r="2.4"/><circle cx="861.8" cy="475.6" r="2.4"/><circle cx="865.4" cy="474.4" r="2.4"/><circle cx="867.7" cy="475.4" r="2.4"/><circle cx="871.2" cy="474.4" r="2.4"/><circle cx="874.5" cy="474.2" r="2.4"/><circle cx="876.0" cy="476.3" r="2.4"/><circle cx="880.1" cy="476.5" r="2.4"/><circle cx="882.0" cy="474.9" r="2.4"/><circle cx="885.0" cy="475.7" r="2.4"/><circle cx="888.6" cy="476.0" r="2.4"/><circle cx="890.7" cy="474.6" r="2.4"/><circle cx="805.0" cy="473.1" r="2.4"/><circle cx="808.6" cy="472.6" r="2.4"/><circle cx="810.9" cy="472.9" r="2.4"/><circle cx="813.4" cy="473.8" r="2.4"/><circle cx="816.8" cy="473.6" r="2.4"/><circle cx="820.9" cy="473.3" r="2.4"/><circle cx="822.4" cy="472.0" r="2.4"/><circle cx="826.1" cy="473.3" r="2.4"/><circle cx="829.1" cy="472.4" r="2.4"/><circle cx="831.1" cy="472.4" r="2.4"/><circle cx="833.6" cy="473.3" r="2.4"/><circle cx="837.8" cy="472.9" r="2.4"/><circle cx="840.6" cy="473.6" r="2.4"/><circle cx="841.9" cy="473.9" r="2.4"/><circle cx="854.5" cy="472.6" r="2.4"/><circle cx="855.9" cy="473.9" r="2.4"/><circle cx="860.4" cy="472.8" r="2.4"/><circle cx="863.3" cy="473.9" r="2.4"/><circle cx="865.6" cy="473.7" r="2.4"/><circle cx="868.7" cy="472.5" r="2.4"/><circle cx="871.3" cy="473.4" r="2.4"/><circle cx="874.8" cy="473.7" r="2.4"/><circle cx="875.9" cy="472.3" r="2.4"/><circle cx="878.8" cy="473.8" r="2.4"/><circle cx="882.3" cy="472.4" r="2.4"/><circle cx="886.0" cy="472.2" r="2.4"/><circle cx="887.2" cy="472.4" r="2.4"/><circle cx="891.6" cy="473.7" r="2.4"/><circle cx="805.4" cy="470.6" r="2.4"/><circle cx="807.3" cy="471.3" r="2.4"/><circle cx="811.1" cy="470.0" r="2.4"/><circle cx="814.2" cy="470.1" r="2.4"/><circle cx="815.6" cy="470.7" r="2.4"/><circle cx="818.6" cy="468.9" r="2.4"/><circle cx="821.4" cy="471.1" r="2.4"/><circle cx="824.5" cy="471.1" r="2.4"/><circle cx="827.5" cy="469.7" r="2.4"/><circle cx="830.8" cy="470.8" r="2.4"/><circle cx="832.6" cy="470.1" r="2.4"/><circle cx="836.5" cy="470.2" r="2.4"/><circle cx="839.1" cy="469.0" r="2.4"/><circle cx="841.1" cy="470.6" r="2.4"/><circle cx="853.2" cy="469.9" r="2.4"/><circle cx="856.8" cy="469.9" r="2.4"/><circle cx="859.2" cy="470.2" r="2.4"/><circle cx="862.3" cy="469.2" r="2.4"/><circle cx="864.1" cy="471.0" r="2.4"/><circle cx="866.9" cy="470.4" r="2.4"/><circle cx="871.0" cy="470.6" r="2.4"/><circle cx="873.3" cy="469.7" r="2.4"/><circle cx="876.8" cy="471.0" r="2.4"/><circle cx="879.3" cy="470.4" r="2.4"/><circle cx="880.8" cy="469.7" r="2.4"/><circle cx="885.1" cy="469.8" r="2.4"/><circle cx="886.3" cy="468.9" r="2.4"/><circle cx="889.9" cy="469.7" r="2.4"/><circle cx="804.2" cy="467.9" r="2.4"/><circle cx="806.4" cy="467.8" r="2.4"/><circle cx="808.6" cy="468.4" r="2.4"/><circle cx="812.7" cy="467.6" r="2.4"/><circle cx="815.8" cy="468.4" r="2.4"/><circle cx="817.5" cy="468.1" r="2.4"/><circle cx="821.6" cy="466.6" r="2.4"/><circle cx="824.4" cy="467.3" r="2.4"/><circle cx="825.6" cy="467.5" r="2.4"/><circle cx="828.7" cy="468.5" r="2.4"/><circle cx="832.2" cy="467.9" r="2.4"/><circle cx="834.1" cy="467.3" r="2.4"/><circle cx="838.6" cy="466.2" r="2.4"/><circle cx="840.5" cy="468.3" r="2.4"/><circle cx="844.0" cy="468.3" r="2.4"/><circle cx="854.9" cy="468.4" r="2.4"/><circle cx="858.6" cy="467.2" r="2.4"/><circle cx="860.4" cy="467.9" r="2.4"/><circle cx="863.4" cy="466.1" r="2.4"/><circle cx="866.0" cy="468.1" r="2.4"/><circle cx="869.0" cy="466.3" r="2.4"/><circle cx="871.6" cy="467.0" r="2.4"/><circle cx="875.5" cy="467.8" r="2.4"/><circle cx="878.1" cy="467.3" r="2.4"/><circle cx="879.6" cy="468.4" r="2.4"/><circle cx="884.1" cy="467.4" r="2.4"/><circle cx="885.9" cy="466.3" r="2.4"/><circle cx="889.0" cy="467.3" r="2.4"/><circle cx="802.1" cy="464.0" r="2.4"/><circle cx="804.9" cy="464.7" r="2.4"/><circle cx="808.7" cy="464.4" r="2.4"/><circle cx="810.3" cy="465.4" r="2.4"/><circle cx="814.2" cy="464.0" r="2.4"/><circle cx="815.9" cy="463.4" r="2.4"/><circle cx="818.8" cy="465.5" r="2.4"/><circle cx="821.6" cy="464.8" r="2.4"/><circle cx="825.5" cy="463.7" r="2.4"/><circle cx="827.4" cy="464.1" r="2.4"/><circle cx="830.1" cy="464.4" r="2.4"/><circle cx="833.2" cy="465.0" r="2.4"/><circle cx="835.7" cy="464.1" r="2.4"/><circle cx="838.7" cy="464.0" r="2.4"/><circle cx="841.9" cy="464.4" r="2.4"/><circle cx="853.9" cy="464.7" r="2.4"/><circle cx="857.2" cy="463.6" r="2.4"/><circle cx="858.8" cy="465.0" r="2.4"/><circle cx="862.9" cy="465.5" r="2.4"/><circle cx="864.8" cy="464.8" r="2.4"/><circle cx="868.8" cy="465.6" r="2.4"/><circle cx="870.9" cy="464.0" r="2.4"/><circle cx="873.9" cy="465.9" r="2.4"/><circle cx="877.2" cy="465.1" r="2.4"/><circle cx="879.9" cy="464.2" r="2.4"/><circle cx="881.8" cy="463.8" r="2.4"/><circle cx="885.2" cy="465.0" r="2.4"/><circle cx="888.1" cy="464.6" r="2.4"/><circle cx="890.9" cy="464.3" r="2.4"/><circle cx="800.0" cy="476.1" r="2.4"/><circle cx="899.8" cy="489.5" r="2.4"/><circle cx="899.0" cy="477.4" r="2.4"/><circle cx="804.7" cy="492.6" r="2.4"/><circle cx="797.0" cy="479.2" r="2.4"/><circle cx="892.2" cy="505.1" r="2.4"/><circle cx="903.5" cy="483.6" r="2.4"/><circle cx="800.4" cy="483.9" r="2.4"/><circle cx="806.1" cy="506.8" r="2.4"/><circle cx="900.1" cy="491.3" r="2.4"/><circle cx="804.0" cy="487.2" r="2.4"/><circle cx="901.3" cy="486.4" r="2.4"/><circle cx="801.3" cy="476.7" r="2.4"/><circle cx="881.9" cy="517.4" r="2.4"/><circle cx="818.6" cy="514.6" r="2.4"/><circle cx="890.4" cy="508.6" r="2.4"/><circle cx="897.1" cy="470.7" r="2.4"/><circle cx="880.8" cy="516.2" r="2.4"/><circle cx="797.0" cy="474.1" r="2.4"/><circle cx="802.0" cy="466.0" r="2.4"/><circle cx="893.0" cy="467.1" r="2.4"/><circle cx="800.6" cy="471.3" r="2.4"/><circle cx="810.1" cy="506.1" r="2.4"/><circle cx="888.9" cy="507.8" r="2.4"/><circle cx="802.4" cy="497.1" r="2.4"/><circle cx="893.9" cy="506.2" r="2.4"/><circle cx="804.4" cy="470.7" r="2.4"/><circle cx="805.9" cy="493.8" r="2.4"/><circle cx="896.1" cy="481.4" r="2.4"/><circle cx="900.4" cy="469.8" r="2.4"/><circle cx="893.3" cy="474.6" r="2.4"/><circle cx="801.5" cy="487.2" r="2.4"/><circle cx="811.3" cy="507.5" r="2.4"/><circle cx="898.5" cy="486.0" r="2.4"/><circle cx="895.3" cy="475.1" r="2.4"/><circle cx="800.1" cy="480.8" r="2.4"/><circle cx="902.1" cy="478.8" r="2.4"/><circle cx="806.4" cy="500.5" r="2.4"/><circle cx="898.0" cy="492.1" r="2.4"/><circle cx="897.2" cy="486.2" r="2.4"/><circle cx="894.5" cy="503.7" r="2.4"/><circle cx="893.9" cy="467.1" r="2.4"/><circle cx="898.5" cy="508.6" r="2.4"/><circle cx="883.7" cy="516.7" r="2.4"/><circle cx="808.2" cy="502.2" r="2.4"/><circle cx="888.4" cy="513.2" r="2.4"/><circle cx="887.2" cy="512.6" r="2.4"/><circle cx="803.7" cy="472.9" r="2.4"/><circle cx="800.8" cy="501.4" r="2.4"/><circle cx="801.3" cy="477.7" r="2.4"/><circle cx="881.8" cy="515.4" r="2.4"/><circle cx="899.6" cy="495.4" r="2.4"/><circle cx="798.7" cy="487.7" r="2.4"/><circle cx="798.8" cy="486.8" r="2.4"/><circle cx="893.9" cy="469.0" r="2.4"/><circle cx="898.0" cy="484.9" r="2.4"/><circle cx="886.6" cy="512.9" r="2.4"/><circle cx="887.5" cy="512.1" r="2.4"/><circle cx="887.4" cy="512.4" r="2.4"/><circle cx="800.9" cy="493.9" r="2.4"/><circle cx="899.0" cy="486.5" r="2.4"/><circle cx="896.5" cy="471.2" r="2.4"/><circle cx="802.4" cy="490.8" r="2.4"/><circle cx="802.0" cy="494.0" r="2.4"/><circle cx="898.9" cy="485.5" r="2.4"/><circle cx="883.3" cy="514.2" r="2.4"/><circle cx="893.3" cy="471.8" r="2.4"/><circle cx="800.0" cy="468.6" r="2.4"/><circle cx="890.2" cy="508.4" r="2.4"/><circle cx="801.8" cy="488.0" r="2.4"/></g>
<g fill="#4fdc2c" stroke="#36b21f" stroke-width="1.2"><circle cx="822.9" cy="462.3" r="3.9"/><circle cx="828.4" cy="461.8" r="3.9"/><circle cx="834.3" cy="462.6" r="3.9"/><circle cx="809.4" cy="458.4" r="3.9"/><circle cx="814.1" cy="456.5" r="3.9"/><circle cx="819.5" cy="458.3" r="3.9"/><circle cx="824.3" cy="456.3" r="3.9"/><circle cx="827.4" cy="457.1" r="3.9"/><circle cx="834.0" cy="458.1" r="3.9"/><circle cx="837.8" cy="459.0" r="3.9"/><circle cx="843.2" cy="456.5" r="3.9"/><circle cx="808.7" cy="453.2" r="3.9"/><circle cx="813.7" cy="453.1" r="3.9"/><circle cx="817.8" cy="454.5" r="3.9"/><circle cx="824.2" cy="452.4" r="3.9"/><circle cx="827.7" cy="453.0" r="3.9"/><circle cx="833.6" cy="452.9" r="3.9"/><circle cx="839.5" cy="452.0" r="3.9"/><circle cx="842.9" cy="453.5" r="3.9"/><circle cx="803.6" cy="449.1" r="3.9"/><circle cx="809.5" cy="449.5" r="3.9"/><circle cx="813.4" cy="448.7" r="3.9"/><circle cx="818.4" cy="449.5" r="3.9"/><circle cx="822.6" cy="446.3" r="3.9"/><circle cx="829.2" cy="448.9" r="3.9"/><circle cx="833.3" cy="449.5" r="3.9"/><circle cx="837.4" cy="449.0" r="3.9"/><circle cx="807.3" cy="441.3" r="3.9"/><circle cx="814.0" cy="441.6" r="3.9"/><circle cx="819.3" cy="442.0" r="3.9"/><circle cx="822.7" cy="444.1" r="3.9"/><circle cx="827.8" cy="444.4" r="3.9"/><circle cx="832.5" cy="442.2" r="3.9"/><circle cx="838.4" cy="444.6" r="3.9"/><circle cx="842.9" cy="441.8" r="3.9"/><circle cx="804.3" cy="437.2" r="3.9"/><circle cx="809.0" cy="436.6" r="3.9"/><circle cx="813.5" cy="438.4" r="3.9"/><circle cx="818.6" cy="438.7" r="3.9"/><circle cx="822.1" cy="438.8" r="3.9"/><circle cx="828.3" cy="439.2" r="3.9"/><circle cx="832.3" cy="438.8" r="3.9"/><circle cx="838.1" cy="436.4" r="3.9"/><circle cx="807.9" cy="433.3" r="3.9"/><circle cx="812.9" cy="432.5" r="3.9"/><circle cx="819.3" cy="432.0" r="3.9"/><circle cx="822.8" cy="434.1" r="3.9"/><circle cx="827.1" cy="432.7" r="3.9"/><circle cx="832.7" cy="434.6" r="3.9"/><circle cx="837.9" cy="433.9" r="3.9"/><circle cx="809.0" cy="428.9" r="3.9"/><circle cx="814.5" cy="429.2" r="3.9"/><circle cx="818.6" cy="427.3" r="3.9"/><circle cx="824.0" cy="428.0" r="3.9"/><circle cx="829.4" cy="427.5" r="3.9"/><circle cx="833.9" cy="429.4" r="3.9"/><circle cx="837.6" cy="428.1" r="3.9"/><circle cx="808.3" cy="422.9" r="3.9"/><circle cx="814.3" cy="423.6" r="3.9"/><circle cx="818.5" cy="422.6" r="3.9"/><circle cx="823.8" cy="423.6" r="3.9"/><circle cx="827.8" cy="423.1" r="3.9"/><circle cx="833.7" cy="422.5" r="3.9"/><circle cx="837.4" cy="423.2" r="3.9"/><circle cx="812.8" cy="419.5" r="3.9"/><circle cx="817.8" cy="419.1" r="3.9"/><circle cx="823.1" cy="416.6" r="3.9"/><circle cx="827.3" cy="418.5" r="3.9"/><circle cx="833.9" cy="417.6" r="3.9"/><circle cx="837.1" cy="418.9" r="3.9"/><circle cx="819.0" cy="413.1" r="3.9"/><circle cx="823.5" cy="412.1" r="3.9"/><circle cx="829.6" cy="412.6" r="3.9"/><circle cx="832.2" cy="413.0" r="3.9"/><circle cx="818.9" cy="408.9" r="3.9"/><circle cx="823.7" cy="407.6" r="3.9"/><circle cx="827.2" cy="407.1" r="3.9"/><circle cx="832.7" cy="408.0" r="3.9"/><circle cx="824.1" cy="402.5" r="3.9"/><circle cx="828.5" cy="402.0" r="3.9"/><circle cx="834.4" cy="404.2" r="3.9"/><circle cx="772.8" cy="328.0" r="3.9"/><circle cx="802.5" cy="336.8" r="3.9"/><circle cx="770.1" cy="364.7" r="3.9"/><circle cx="802.5" cy="362.2" r="3.9"/><circle cx="792.6" cy="385.5" r="3.9"/><circle cx="802.7" cy="385.5" r="3.9"/><circle cx="794.0" cy="392.2" r="3.9"/><circle cx="783.5" cy="400.9" r="3.9"/><circle cx="775.9" cy="413.0" r="3.9"/><circle cx="782.0" cy="432.6" r="3.9"/><circle cx="828.7" cy="379.2" r="3.9"/><circle cx="832.7" cy="379.2" r="3.9"/><circle cx="815.4" cy="393.4" r="3.9"/><circle cx="818.0" cy="395.5" r="3.9"/><circle cx="830.1" cy="397.6" r="3.9"/><circle cx="811.4" cy="407.1" r="3.9"/><circle cx="813.4" cy="410.5" r="3.9"/><circle cx="789.1" cy="417.6" r="3.9"/><circle cx="790.5" cy="420.5" r="3.9"/><circle cx="802.0" cy="414.6" r="3.9"/><circle cx="795.5" cy="420.1" r="3.9"/><circle cx="792.0" cy="434.6" r="3.9"/><circle cx="794.1" cy="440.0" r="3.9"/><circle cx="794.0" cy="450.5" r="3.9"/><circle cx="804.7" cy="448.4" r="3.9"/><circle cx="792.6" cy="458.4" r="3.9"/><circle cx="798.0" cy="462.1" r="3.9"/><circle cx="800.8" cy="455.0" r="3.9"/><circle cx="797.5" cy="446.7" r="3.9"/><circle cx="815.9" cy="417.6" r="3.9"/><circle cx="820.9" cy="411.3" r="3.9"/><circle cx="826.7" cy="407.1" r="3.9"/><circle cx="810.2" cy="182.2" r="3.9"/></g>
<g fill="#f34545" stroke="#e03030" stroke-width="1.2"><circle cx="871.0" cy="461.5" r="3.9"/><circle cx="887.3" cy="462.7" r="3.9"/><circle cx="860.8" cy="459.1" r="3.9"/><circle cx="866.3" cy="457.1" r="3.9"/><circle cx="873.0" cy="458.4" r="3.9"/><circle cx="876.1" cy="458.6" r="3.9"/><circle cx="882.2" cy="458.0" r="3.9"/><circle cx="885.8" cy="457.9" r="3.9"/><circle cx="891.2" cy="459.1" r="3.9"/><circle cx="897.6" cy="459.3" r="3.9"/><circle cx="861.9" cy="451.7" r="3.9"/><circle cx="866.3" cy="451.5" r="3.9"/><circle cx="870.6" cy="451.6" r="3.9"/><circle cx="876.6" cy="454.6" r="3.9"/><circle cx="881.2" cy="451.3" r="3.9"/><circle cx="887.4" cy="452.2" r="3.9"/><circle cx="892.7" cy="454.6" r="3.9"/><circle cx="896.3" cy="453.1" r="3.9"/><circle cx="857.9" cy="446.6" r="3.9"/><circle cx="860.8" cy="446.3" r="3.9"/><circle cx="866.9" cy="448.6" r="3.9"/><circle cx="870.7" cy="448.2" r="3.9"/><circle cx="876.9" cy="448.1" r="3.9"/><circle cx="881.3" cy="446.5" r="3.9"/><circle cx="886.8" cy="448.6" r="3.9"/><circle cx="892.6" cy="448.8" r="3.9"/><circle cx="896.6" cy="449.3" r="3.9"/><circle cx="862.1" cy="442.9" r="3.9"/><circle cx="867.3" cy="442.4" r="3.9"/><circle cx="871.9" cy="443.4" r="3.9"/><circle cx="875.9" cy="444.5" r="3.9"/><circle cx="880.8" cy="443.3" r="3.9"/><circle cx="885.5" cy="442.4" r="3.9"/><circle cx="891.4" cy="443.9" r="3.9"/><circle cx="861.7" cy="439.4" r="3.9"/><circle cx="865.7" cy="436.7" r="3.9"/><circle cx="872.0" cy="438.7" r="3.9"/><circle cx="877.4" cy="439.5" r="3.9"/><circle cx="882.9" cy="436.5" r="3.9"/><circle cx="887.3" cy="439.5" r="3.9"/><circle cx="861.8" cy="434.0" r="3.9"/><circle cx="866.6" cy="431.6" r="3.9"/><circle cx="872.9" cy="433.0" r="3.9"/><circle cx="877.6" cy="434.2" r="3.9"/><circle cx="883.0" cy="431.8" r="3.9"/><circle cx="886.8" cy="431.7" r="3.9"/><circle cx="857.7" cy="426.5" r="3.9"/><circle cx="862.4" cy="429.4" r="3.9"/><circle cx="866.2" cy="427.5" r="3.9"/><circle cx="872.9" cy="427.4" r="3.9"/><circle cx="875.6" cy="428.5" r="3.9"/><circle cx="881.4" cy="429.1" r="3.9"/><circle cx="862.9" cy="424.5" r="3.9"/><circle cx="867.8" cy="424.3" r="3.9"/><circle cx="871.0" cy="422.2" r="3.9"/><circle cx="877.5" cy="422.6" r="3.9"/><circle cx="881.8" cy="422.2" r="3.9"/><circle cx="858.0" cy="418.5" r="3.9"/><circle cx="861.6" cy="418.7" r="3.9"/><circle cx="867.5" cy="418.0" r="3.9"/><circle cx="870.9" cy="416.7" r="3.9"/><circle cx="878.0" cy="419.5" r="3.9"/><circle cx="881.7" cy="418.9" r="3.9"/><circle cx="861.7" cy="411.5" r="3.9"/><circle cx="866.6" cy="412.0" r="3.9"/><circle cx="873.0" cy="412.6" r="3.9"/><circle cx="877.1" cy="412.0" r="3.9"/><circle cx="862.2" cy="408.5" r="3.9"/><circle cx="866.6" cy="407.4" r="3.9"/><circle cx="873.5" cy="370.9" r="3.9"/><circle cx="880.0" cy="382.2" r="3.9"/><circle cx="886.0" cy="381.3" r="3.9"/><circle cx="894.7" cy="383.8" r="3.9"/><circle cx="865.5" cy="391.7" r="3.9"/><circle cx="870.6" cy="397.6" r="3.9"/><circle cx="878.7" cy="396.7" r="3.9"/><circle cx="880.7" cy="399.6" r="3.9"/><circle cx="910.7" cy="404.6" r="3.9"/><circle cx="911.4" cy="420.9" r="3.9"/><circle cx="920.6" cy="417.6" r="3.9"/><circle cx="904.7" cy="433.8" r="3.9"/><circle cx="900.7" cy="444.6" r="3.9"/><circle cx="906.0" cy="444.6" r="3.9"/><circle cx="910.0" cy="449.2" r="3.9"/><circle cx="905.4" cy="461.3" r="3.9"/><circle cx="907.4" cy="460.0" r="3.9"/><circle cx="861.0" cy="400.9" r="3.9"/><circle cx="891.0" cy="434.2" r="3.9"/><circle cx="896.0" cy="438.4" r="3.9"/><circle cx="882.8" cy="153.5" r="3.9"/></g>
<text x="763.5" y="108" text-anchor="middle" style="font:bold 23.6px 'Liberation Sans', Arial, sans-serif;fill:#3ccc22">Down</text>
<text x="771.5" y="137.3" text-anchor="middle" style="font:bold 23.6px 'Liberation Sans', 'Noto Sans CJK SC', sans-serif;fill:#3ccc22"><tspan font-weight="normal">（</tspan><tspan dx="2.5" font-size="22.6">n=194</tspan><tspan font-weight="normal" dx="1.5">）</tspan></text>
<text x="966" y="108" text-anchor="middle" style="font:bold 23.6px 'Liberation Sans', Arial, sans-serif;fill:#f52222">Up</text>
<text x="973.5" y="137.3" text-anchor="middle" style="font:bold 23.6px 'Liberation Sans', 'Noto Sans CJK SC', sans-serif;fill:#f52222"><tspan font-weight="normal">（</tspan><tspan dx="2.5" font-size="22.6">n=351</tspan><tspan font-weight="normal" dx="1.5">）</tspan></text>
<text x="853" y="617" text-anchor="middle" style="font:34.5px 'Liberation Sans', Arial, sans-serif">log<tspan font-size="23" dy="7">2</tspan><tspan dy="-7">FC(Mu/WT)</tspan></text>
<text transform="translate(607 313) rotate(-90)" text-anchor="middle" style="font:35px 'Liberation Sans', Arial, sans-serif">-log<tspan font-size="23.5" dy="7.5">10</tspan><tspan dy="-7.5">(</tspan><tspan font-style="italic">P</tspan> Value)</text>
<rect x="1790.6" y="111.6" width="131.1" height="17.6" fill="#f09b9f" stroke="#000" stroke-width="1.6"/>
<line x1="1780.1" y1="120.4" x2="1790.6" y2="120.4" stroke="#000" stroke-width="1.6"/>
<text x="1778.1" y="127.7" text-anchor="end" style="font:20.4px 'Liberation Sans', Arial, sans-serif">Electron transport coupled proton transport</text>
<rect x="1790.6" y="143.2" width="116.6" height="17.6" fill="#f09b9f" stroke="#000" stroke-width="1.6"/>
<line x1="1780.1" y1="152.0" x2="1790.6" y2="152.0" stroke="#000" stroke-width="1.6"/>
<text x="1778.1" y="159.3" text-anchor="end" style="font:20.4px 'Liberation Sans', Arial, sans-serif">Sperm flagellum assembly</text>
<rect x="1790.6" y="174.8" width="100.1" height="17.6" fill="#f09b9f" stroke="#000" stroke-width="1.6"/>
<line x1="1780.1" y1="183.6" x2="1790.6" y2="183.6" stroke="#000" stroke-width="1.6"/>
<text x="1778.1" y="190.9" text-anchor="end" style="font:20.4px 'Liberation Sans', Arial, sans-serif">Interneuron migration from the subpallium to the cortex</text>
<rect x="1790.6" y="206.4" width="100.1" height="17.6" fill="#f09b9f" stroke="#000" stroke-width="1.6"/>
<line x1="1780.1" y1="215.2" x2="1790.6" y2="215.2" stroke="#000" stroke-width="1.6"/>
<text x="1778.1" y="222.5" text-anchor="end" style="font:20.4px 'Liberation Sans', Arial, sans-serif">Glial cell fate specification</text>
<rect x="1790.6" y="238.0" width="87.7" height="17.6" fill="#f09b9f" stroke="#000" stroke-width="1.6"/>
<line x1="1780.1" y1="246.8" x2="1790.6" y2="246.8" stroke="#000" stroke-width="1.6"/>
<text x="1778.1" y="254.1" text-anchor="end" style="font:20.4px 'Liberation Sans', Arial, sans-serif">Positive regulation of CD8-positive, alpha-beta T cell proliferation</text>
<rect x="1790.6" y="269.6" width="85.4" height="17.6" fill="#f09b9f" stroke="#000" stroke-width="1.6"/>
<line x1="1780.1" y1="278.4" x2="1790.6" y2="278.4" stroke="#000" stroke-width="1.6"/>
<text x="1778.1" y="285.7" text-anchor="end" style="font:20.4px 'Liberation Sans', Arial, sans-serif">Response to vitamin</text>
<rect x="1790.6" y="301.1" width="84.7" height="17.6" fill="#f09b9f" stroke="#000" stroke-width="1.6"/>
<line x1="1780.1" y1="309.9" x2="1790.6" y2="309.9" stroke="#000" stroke-width="1.6"/>
<text x="1778.1" y="317.2" text-anchor="end" style="font:20.4px 'Liberation Sans', Arial, sans-serif">Central nervous system neuron differentiation</text>
<rect x="1790.6" y="332.7" width="76.9" height="17.6" fill="#f09b9f" stroke="#000" stroke-width="1.6"/>
<line x1="1780.1" y1="341.5" x2="1790.6" y2="341.5" stroke="#000" stroke-width="1.6"/>
<text x="1778.1" y="348.8" text-anchor="end" style="font:20.4px 'Liberation Sans', Arial, sans-serif">Positive regulation of lymphocyte activation</text>
<rect x="1790.6" y="364.3" width="75.5" height="17.6" fill="#f09b9f" stroke="#000" stroke-width="1.6"/>
<line x1="1780.1" y1="373.1" x2="1790.6" y2="373.1" stroke="#000" stroke-width="1.6"/>
<text x="1778.1" y="380.4" text-anchor="end" style="font:20.4px 'Liberation Sans', Arial, sans-serif">Regulation of vasoconstriction</text>
<rect x="1790.6" y="395.9" width="74.5" height="17.6" fill="#f09b9f" stroke="#000" stroke-width="1.6"/>
<line x1="1780.1" y1="404.7" x2="1790.6" y2="404.7" stroke="#000" stroke-width="1.6"/>
<text x="1778.1" y="412.0" text-anchor="end" style="font:20.4px 'Liberation Sans', Arial, sans-serif">Positive regulation of MAPK cascade</text>
<rect x="1790.6" y="427.5" width="72.7" height="17.6" fill="#f09b9f" stroke="#000" stroke-width="1.6"/>
<line x1="1780.1" y1="436.3" x2="1790.6" y2="436.3" stroke="#000" stroke-width="1.6"/>
<text x="1778.1" y="443.6" text-anchor="end" style="font:20.4px 'Liberation Sans', Arial, sans-serif">Regulation of hormone secretion</text>
<rect x="1790.6" y="459.1" width="68.7" height="17.6" fill="#f09b9f" stroke="#000" stroke-width="1.6"/>
<line x1="1780.1" y1="467.9" x2="1790.6" y2="467.9" stroke="#000" stroke-width="1.6"/>
<text x="1778.1" y="475.2" text-anchor="end" style="font:20.4px 'Liberation Sans', Arial, sans-serif">Behavior</text>
<rect x="1790.6" y="490.7" width="67.0" height="17.6" fill="#f09b9f" stroke="#000" stroke-width="1.6"/>
<line x1="1780.1" y1="499.5" x2="1790.6" y2="499.5" stroke="#000" stroke-width="1.6"/>
<text x="1778.1" y="506.8" text-anchor="end" style="font:20.4px 'Liberation Sans', Arial, sans-serif">Blood vessel development</text>
<rect x="1790.6" y="522.3" width="65.1" height="17.6" fill="#f09b9f" stroke="#000" stroke-width="1.6"/>
<line x1="1780.1" y1="531.1" x2="1790.6" y2="531.1" stroke="#000" stroke-width="1.6"/>
<text x="1778.1" y="538.4" text-anchor="end" style="font:20.4px 'Liberation Sans', Arial, sans-serif">Regulation of neural precursor cell proliferation</text>
<rect x="1790.6" y="553.9" width="64.5" height="17.6" fill="#f09b9f" stroke="#000" stroke-width="1.6"/>
<line x1="1780.1" y1="562.7" x2="1790.6" y2="562.7" stroke="#000" stroke-width="1.6"/>
<text x="1778.1" y="570.0" text-anchor="end" style="font:20.4px 'Liberation Sans', Arial, sans-serif">Neuroblast differentiation</text>
<path d="M1790.6 95.8V584.2H1970.3" stroke="#000" stroke-width="1.6" fill="none"/>
<line x1="1790.6" y1="584.2" x2="1790.6" y2="594.7" stroke="#000" stroke-width="1.6"/>
<text x="1790.6" y="616.3" text-anchor="middle" style="font:18px 'Liberation Sans', Arial, sans-serif">0</text>
<line x1="1835.4" y1="584.2" x2="1835.4" y2="594.7" stroke="#000" stroke-width="1.6"/>
<text x="1835.4" y="616.3" text-anchor="middle" style="font:18px 'Liberation Sans', Arial, sans-serif">2</text>
<line x1="1880.3" y1="584.2" x2="1880.3" y2="594.7" stroke="#000" stroke-width="1.6"/>
<text x="1880.3" y="616.3" text-anchor="middle" style="font:18px 'Liberation Sans', Arial, sans-serif">4</text>
<line x1="1925.1" y1="584.2" x2="1925.1" y2="594.7" stroke="#000" stroke-width="1.6"/>
<text x="1925.1" y="616.3" text-anchor="middle" style="font:18px 'Liberation Sans', Arial, sans-serif">6</text>
<line x1="1970.0" y1="584.2" x2="1970.0" y2="594.7" stroke="#000" stroke-width="1.6"/>
<text x="1970.0" y="616.3" text-anchor="middle" style="font:18px 'Liberation Sans', Arial, sans-serif">8</text>
<text x="1860" y="648.6" text-anchor="middle" style="font:22.3px 'Liberation Sans', Arial, sans-serif">-log(<tspan font-style="italic">P</tspan> Value)</text>
<text x="1880" y="63.2" text-anchor="middle" style="font:26px 'Liberation Sans', Arial, sans-serif">GO of DEGs</text>
<circle cx="271.0" cy="977.0" r="95.6" fill="rgb(180,90,88)" fill-opacity="0.45" stroke="#666" stroke-width="1"/>
<circle cx="460.5" cy="940.0" r="143.5" fill="rgb(233,206,159)" fill-opacity="0.45" stroke="#666" stroke-width="1"/>
<circle cx="366.9" cy="1105.8" r="114.5" fill="rgb(188,193,228)" fill-opacity="0.45" stroke="#666" stroke-width="1"/>
<text x="509.0" y="858.8" style="font:34.4px 'Liberation Sans', Arial, sans-serif">ASD genes</text>
<text x="420.0" y="944.6" style="font:34.4px 'Liberation Sans', Arial, sans-serif">1140 total</text>
<text x="182.5" y="983.5" style="font:34.4px 'Liberation Sans', Arial, sans-serif">411 total</text>
<text x="322.0" y="969.0" style="font:34.4px 'Liberation Sans', Arial, sans-serif">39</text>
<text x="339.5" y="1019.1" style="font:34.4px 'Liberation Sans', Arial, sans-serif">6</text>
<text x="297.0" y="1043.6" style="font:34.4px 'Liberation Sans', Arial, sans-serif">15</text>
<text x="390.0" y="1056.2" style="font:34.4px 'Liberation Sans', Arial, sans-serif">171</text>
<text x="304.5" y="1133.7" style="font:34.4px 'Liberation Sans', Arial, sans-serif">650 total</text>
<text x="298.0" y="1220.1" style="font:34.4px 'Liberation Sans', Arial, sans-serif">ID genes</text>
<text x="79.0" y="876.1" style="font:italic 34.4px 'Liberation Sans', Arial, sans-serif">Satb1 DEG</text>
<text x="94.5" y="913.0" style="font:34.4px 'Liberation Sans', Arial, sans-serif">orthologs</text>
<circle cx="269.3" cy="1445.3" r="95.5" fill="rgb(180,90,88)" fill-opacity="0.45" stroke="#666" stroke-width="1"/>
<circle cx="445.9" cy="1421.0" r="130.5" fill="rgb(173,222,159)" fill-opacity="0.45" stroke="#666" stroke-width="1"/>
<circle cx="350.3" cy="1560.0" r="100.0" fill="rgb(213,195,226)" fill-opacity="0.45" stroke="#666" stroke-width="1"/>
<text x="409.0" y="1334.4" style="font:34.4px 'Liberation Sans', Arial, sans-serif">Synaptome genes</text>
<text x="74.0" y="1348.1" style="font:italic 34.4px 'Liberation Sans', Arial, sans-serif">Satb1 DEG</text>
<text x="98.0" y="1385.9" style="font:34.4px 'Liberation Sans', Arial, sans-serif">orthologs</text>
<text x="389.0" y="1418.3" style="font:34.4px 'Liberation Sans', Arial, sans-serif">1112 total</text>
<text x="186.2" y="1456.5" style="font:34.4px 'Liberation Sans', Arial, sans-serif">411 total</text>
<text x="321.0" y="1442.4" style="font:34.4px 'Liberation Sans', Arial, sans-serif">23</text>
<text x="334.0" y="1492.1" style="font:34.4px 'Liberation Sans', Arial, sans-serif">1</text>
<text x="287.0" y="1517.4" style="font:34.4px 'Liberation Sans', Arial, sans-serif">10</text>
<text x="368.0" y="1517.4" style="font:34.4px 'Liberation Sans', Arial, sans-serif">211</text>
<text x="284.0" y="1594.8" style="font:34.4px 'Liberation Sans', Arial, sans-serif">842 total</text>
<text x="249.0" y="1656.0" style="font:34.4px 'Liberation Sans', Arial, sans-serif">FMRP genes</text>
<path d="M937.8 1094.1V962.2H955.2V1094.1" fill="#fff" stroke="#000" stroke-width="2"/>
<path d="M966.2 1094.1V904.2H983.6V1094.1" fill="#fff" stroke="#f8201a" stroke-width="2"/>
<path d="M1014.0 1094.1V962.2H1031.4V1094.1" fill="#fff" stroke="#000" stroke-width="2"/>
<path d="M1042.4 1094.1V919.9H1059.8V1094.1" fill="#fff" stroke="#f8201a" stroke-width="2"/>
<path d="M1090.1 1094.1V962.2H1107.5V1094.1" fill="#fff" stroke="#000" stroke-width="2"/>
<path d="M1118.5 1094.1V874.4H1135.9V1094.1" fill="#fff" stroke="#f8201a" stroke-width="2"/>
<path d="M1166.3 1094.1V962.2H1183.7V1094.1" fill="#fff" stroke="#000" stroke-width="2"/>
<path d="M1194.7 1094.1V890.2H1212.1V1094.1" fill="#fff" stroke="#f8201a" stroke-width="2"/>
<path d="M1242.5 1094.1V962.2H1259.9V1094.1" fill="#fff" stroke="#000" stroke-width="2"/>
<path d="M1270.9 1094.1V928.6H1288.3V1094.1" fill="#fff" stroke="#f8201a" stroke-width="2"/>
<path d="M1318.7 1094.1V962.2H1336.1V1094.1" fill="#fff" stroke="#000" stroke-width="2"/>
<path d="M1347.1 1094.1V902.1H1364.5V1094.1" fill="#fff" stroke="#f8201a" stroke-width="2"/>
<path d="M1394.8 1094.1V962.2H1412.2V1094.1" fill="#fff" stroke="#000" stroke-width="2"/>
<path d="M1423.2 1094.1V928.6H1440.6V1094.1" fill="#fff" stroke="#f8201a" stroke-width="2"/>
<path d="M1471.0 1094.1V962.2H1488.4V1094.1" fill="#fff" stroke="#000" stroke-width="2"/>
<path d="M1499.4 1094.1V919.3H1516.8V1094.1" fill="#fff" stroke="#f8201a" stroke-width="2"/>
<path d="M1547.2 1094.1V962.2H1564.6V1094.1" fill="#fff" stroke="#000" stroke-width="2"/>
<path d="M1575.6 1094.1V939.5H1593.0V1094.1" fill="#fff" stroke="#f8201a" stroke-width="2"/>
<path d="M1623.3 1094.1V962.2H1640.7V1094.1" fill="#fff" stroke="#000" stroke-width="2"/>
<path d="M1651.7 1094.1V924.3H1669.1V1094.1" fill="#fff" stroke="#f8201a" stroke-width="2"/>
<path d="M1699.5 1094.1V962.2H1716.9V1094.1" fill="#fff" stroke="#000" stroke-width="2"/>
<path d="M1727.9 1094.1V907.9H1745.3V1094.1" fill="#fff" stroke="#f8201a" stroke-width="2"/>
<path d="M1775.7 1094.1V962.2H1793.1V1094.1" fill="#fff" stroke="#000" stroke-width="2"/>
<path d="M1804.1 1094.1V929.9H1821.5V1094.1" fill="#fff" stroke="#f8201a" stroke-width="2"/>
<path d="M1851.8 1094.1V962.2H1869.2V1094.1" fill="#fff" stroke="#000" stroke-width="2"/>
<path d="M1880.2 1094.1V987.3H1897.6V1094.1" fill="#fff" stroke="#f8201a" stroke-width="2"/>
<path d="M1928.0 1094.1V962.2H1945.4V1094.1" fill="#fff" stroke="#000" stroke-width="2"/>
<path d="M1956.4 1094.1V1020.8H1973.8V1094.1" fill="#fff" stroke="#f8201a" stroke-width="2"/>
<line x1="927.6" y1="962.2" x2="1988.0" y2="962.2" stroke="#000" stroke-width="1.8" stroke-dasharray="4.5,3.8"/>
<path d="M946.5 956.3V968.1M941.5 956.3H951.5M941.5 968.1H951.5" stroke="#000" stroke-width="2" fill="none"/>
<path d="M974.9 895.6V912.7M969.9 895.6H979.9M969.9 912.7H979.9" stroke="#f8201a" stroke-width="2" fill="none"/>
<circle cx="947.0" cy="943.9" r="5.2" fill="#000"/>
<circle cx="942.7" cy="954.5" r="5.2" fill="#000"/>
<circle cx="949.1" cy="956.7" r="5.2" fill="#000"/>
<circle cx="950.2" cy="963.1" r="5.2" fill="#000"/>
<circle cx="945.9" cy="971.8" r="5.2" fill="#000"/>
<circle cx="948.0" cy="985.7" r="5.2" fill="#000"/>
<circle cx="975.5" cy="876.3" r="5.2" fill="#f8201a"/>
<circle cx="971.6" cy="893.3" r="5.2" fill="#f8201a"/>
<circle cx="979.1" cy="903.1" r="5.2" fill="#f8201a"/>
<circle cx="974.9" cy="901.5" r="5.2" fill="#f8201a"/>
<circle cx="973.8" cy="918.1" r="5.2" fill="#f8201a"/>
<circle cx="977.0" cy="929.9" r="5.2" fill="#f8201a"/>
<path d="M944.8 863.9V847.3H974.9V863.9" stroke="#000" stroke-width="2" fill="none"/>
<text x="960.2" y="841.5" text-anchor="middle" style="font:bold 30px 'DejaVu Sans', sans-serif;letter-spacing:1.3px;stroke:#000;stroke-width:0.7px;stroke-linejoin:round">***</text>
<line x1="960.7" y1="1094.1" x2="960.7" y2="1103.7" stroke="#000" stroke-width="2"/>
<text x="968.3" y="1126.4" text-anchor="end" transform="rotate(-45 968.3 1126.4)" style="font:24.5px 'Liberation Sans', Arial, sans-serif">Wac</text>
<path d="M1022.7 957.6V966.8M1017.7 957.6H1027.7M1017.7 966.8H1027.7" stroke="#000" stroke-width="2" fill="none"/>
<path d="M1051.1 911.9V927.8M1046.1 911.9H1056.1M1046.1 927.8H1056.1" stroke="#f8201a" stroke-width="2" fill="none"/>
<circle cx="1026.4" cy="947.2" r="5.2" fill="#000"/>
<circle cx="1019.9" cy="954.5" r="5.2" fill="#000"/>
<circle cx="1024.2" cy="961.0" r="5.2" fill="#000"/>
<circle cx="1022.1" cy="967.5" r="5.2" fill="#000"/>
<circle cx="1023.1" cy="971.8" r="5.2" fill="#000"/>
<circle cx="1026.4" cy="977.1" r="5.2" fill="#000"/>
<circle cx="1051.7" cy="893.3" r="5.2" fill="#f8201a"/>
<circle cx="1047.8" cy="907.5" r="5.2" fill="#f8201a"/>
<circle cx="1054.3" cy="918.1" r="5.2" fill="#f8201a"/>
<circle cx="1051.0" cy="920.0" r="5.2" fill="#f8201a"/>
<circle cx="1050.0" cy="930.9" r="5.2" fill="#f8201a"/>
<circle cx="1053.2" cy="944.9" r="5.2" fill="#f8201a"/>
<path d="M1021.0 878.0V861.7H1050.0V878.0" stroke="#000" stroke-width="2" fill="none"/>
<text x="1036.2" y="856.5" text-anchor="middle" style="font:bold 30px 'DejaVu Sans', sans-serif;letter-spacing:1.3px;stroke:#000;stroke-width:0.7px;stroke-linejoin:round">***</text>
<line x1="1036.9" y1="1094.1" x2="1036.9" y2="1103.7" stroke="#000" stroke-width="2"/>
<text x="1044.5" y="1126.4" text-anchor="end" transform="rotate(-45 1044.5 1126.4)" style="font:24.5px 'Liberation Sans', Arial, sans-serif">Arl13b</text>
<path d="M1098.8 949.7V974.7M1093.8 949.7H1103.8M1093.8 974.7H1103.8" stroke="#000" stroke-width="2" fill="none"/>
<path d="M1127.2 862.5V886.2M1122.2 862.5H1132.2M1122.2 886.2H1132.2" stroke="#f8201a" stroke-width="2" fill="none"/>
<circle cx="1099.1" cy="916.8" r="5.2" fill="#000"/>
<circle cx="1099.1" cy="934.5" r="5.2" fill="#000"/>
<circle cx="1099.1" cy="958.2" r="5.2" fill="#000"/>
<circle cx="1099.1" cy="978.0" r="5.2" fill="#000"/>
<circle cx="1095.8" cy="989.9" r="5.2" fill="#000"/>
<circle cx="1102.7" cy="997.8" r="5.2" fill="#000"/>
<circle cx="1127.9" cy="832.4" r="5.2" fill="#f8201a"/>
<circle cx="1127.9" cy="852.3" r="5.2" fill="#f8201a"/>
<circle cx="1124.4" cy="870.8" r="5.2" fill="#f8201a"/>
<circle cx="1130.9" cy="880.7" r="5.2" fill="#f8201a"/>
<circle cx="1124.4" cy="899.0" r="5.2" fill="#f8201a"/>
<circle cx="1131.3" cy="907.9" r="5.2" fill="#f8201a"/>
<path d="M1099.2 823.7V806.6H1128.3V823.7" stroke="#000" stroke-width="2" fill="none"/>
<text x="1114.1" y="800.2" text-anchor="middle" style="font:bold 30px 'DejaVu Sans', sans-serif;letter-spacing:1.3px;stroke:#000;stroke-width:0.7px;stroke-linejoin:round">***</text>
<line x1="1113.0" y1="1094.1" x2="1113.0" y2="1103.7" stroke="#000" stroke-width="2"/>
<text x="1120.6" y="1126.4" text-anchor="end" transform="rotate(-45 1120.6 1126.4)" style="font:24.5px 'Liberation Sans', Arial, sans-serif">Pcdh11x</text>
<path d="M1175.0 954.3V970.1M1170.0 954.3H1180.0M1170.0 970.1H1180.0" stroke="#000" stroke-width="2" fill="none"/>
<path d="M1203.4 880.3V900.1M1198.4 880.3H1208.4M1198.4 900.1H1208.4" stroke="#f8201a" stroke-width="2" fill="none"/>
<circle cx="1178.6" cy="942.9" r="5.2" fill="#000"/>
<circle cx="1171.1" cy="948.4" r="5.2" fill="#000"/>
<circle cx="1174.7" cy="956.9" r="5.2" fill="#000"/>
<circle cx="1175.0" cy="973.0" r="5.2" fill="#000"/>
<circle cx="1175.0" cy="996.6" r="5.2" fill="#000"/>
<circle cx="1175.0" cy="962.2" r="5.2" fill="#000"/>
<circle cx="1203.8" cy="837.6" r="5.2" fill="#f8201a"/>
<circle cx="1203.8" cy="879.4" r="5.2" fill="#f8201a"/>
<circle cx="1200.3" cy="885.8" r="5.2" fill="#f8201a"/>
<circle cx="1207.8" cy="898.0" r="5.2" fill="#f8201a"/>
<circle cx="1200.3" cy="909.8" r="5.2" fill="#f8201a"/>
<circle cx="1207.2" cy="924.7" r="5.2" fill="#f8201a"/>
<path d="M1175.2 825.7V809.7H1204.6V825.7" stroke="#000" stroke-width="2" fill="none"/>
<text x="1190.2" y="803.6" text-anchor="middle" style="font:bold 30px 'DejaVu Sans', sans-serif;letter-spacing:1.3px;stroke:#000;stroke-width:0.7px;stroke-linejoin:round">***</text>
<line x1="1189.2" y1="1094.1" x2="1189.2" y2="1103.7" stroke="#000" stroke-width="2"/>
<text x="1196.8" y="1126.4" text-anchor="end" transform="rotate(-45 1196.8 1126.4)" style="font:24.5px 'Liberation Sans', Arial, sans-serif">Ppfibp2</text>
<path d="M1251.2 955.2V969.2M1246.2 955.2H1256.2M1246.2 969.2H1256.2" stroke="#000" stroke-width="2" fill="none"/>
<path d="M1279.6 922.6V934.5M1274.6 922.6H1284.6M1274.6 934.5H1284.6" stroke="#f8201a" stroke-width="2" fill="none"/>
<circle cx="1252.0" cy="933.1" r="5.2" fill="#000"/>
<circle cx="1250.0" cy="945.1" r="5.2" fill="#000"/>
<circle cx="1250.0" cy="965.1" r="5.2" fill="#000"/>
<circle cx="1251.6" cy="969.1" r="5.2" fill="#000"/>
<circle cx="1251.6" cy="976.8" r="5.2" fill="#000"/>
<circle cx="1254.5" cy="981.9" r="5.2" fill="#000"/>
<circle cx="1280.2" cy="906.9" r="5.2" fill="#f8201a"/>
<circle cx="1278.2" cy="917.2" r="5.2" fill="#f8201a"/>
<circle cx="1281.1" cy="927.6" r="5.2" fill="#f8201a"/>
<circle cx="1277.2" cy="933.4" r="5.2" fill="#f8201a"/>
<circle cx="1281.1" cy="939.5" r="5.2" fill="#f8201a"/>
<circle cx="1283.1" cy="944.4" r="5.2" fill="#f8201a"/>
<path d="M1249.6 895.1V878.7H1279.2V895.1" stroke="#000" stroke-width="2" fill="none"/>
<text x="1264.7" y="872.6" text-anchor="middle" style="font:bold 30px 'DejaVu Sans', sans-serif;letter-spacing:1.3px;stroke:#000;stroke-width:0.7px;stroke-linejoin:round">**</text>
<line x1="1265.4" y1="1094.1" x2="1265.4" y2="1103.7" stroke="#000" stroke-width="2"/>
<text x="1273.0" y="1126.4" text-anchor="end" transform="rotate(-45 1273.0 1126.4)" style="font:24.5px 'Liberation Sans', Arial, sans-serif">Hivep3</text>
<path d="M1327.4 955.2V969.2M1322.4 955.2H1332.4M1322.4 969.2H1332.4" stroke="#000" stroke-width="2" fill="none"/>
<path d="M1355.8 886.2V917.9M1350.8 886.2H1360.8M1350.8 917.9H1360.8" stroke="#f8201a" stroke-width="2" fill="none"/>
<circle cx="1330.7" cy="939.8" r="5.2" fill="#000"/>
<circle cx="1323.8" cy="944.4" r="5.2" fill="#000"/>
<circle cx="1324.2" cy="958.2" r="5.2" fill="#000"/>
<circle cx="1330.7" cy="970.0" r="5.2" fill="#000"/>
<circle cx="1324.8" cy="976.8" r="5.2" fill="#000"/>
<circle cx="1330.7" cy="984.8" r="5.2" fill="#000"/>
<circle cx="1356.3" cy="839.9" r="5.2" fill="#f8201a"/>
<circle cx="1354.4" cy="893.1" r="5.2" fill="#f8201a"/>
<circle cx="1356.9" cy="892.3" r="5.2" fill="#f8201a"/>
<circle cx="1359.3" cy="905.5" r="5.2" fill="#f8201a"/>
<circle cx="1356.3" cy="931.6" r="5.2" fill="#f8201a"/>
<circle cx="1356.3" cy="948.4" r="5.2" fill="#f8201a"/>
<path d="M1327.7 826.7V810.5H1356.9V826.7" stroke="#000" stroke-width="2" fill="none"/>
<text x="1342.5" y="804.2" text-anchor="middle" style="font:bold 30px 'DejaVu Sans', sans-serif;letter-spacing:1.3px;stroke:#000;stroke-width:0.7px;stroke-linejoin:round">**</text>
<line x1="1341.6" y1="1094.1" x2="1341.6" y2="1103.7" stroke="#000" stroke-width="2"/>
<text x="1349.2" y="1126.4" text-anchor="end" transform="rotate(-45 1349.2 1126.4)" style="font:24.5px 'Liberation Sans', Arial, sans-serif">Pcdh17</text>
<path d="M1403.5 956.3V968.1M1398.5 956.3H1408.5M1398.5 968.1H1408.5" stroke="#000" stroke-width="2" fill="none"/>
<path d="M1431.9 918.7V938.5M1426.9 918.7H1436.9M1426.9 938.5H1436.9" stroke="#f8201a" stroke-width="2" fill="none"/>
<circle cx="1403.7" cy="941.0" r="5.2" fill="#000"/>
<circle cx="1401.7" cy="949.3" r="5.2" fill="#000"/>
<circle cx="1405.6" cy="959.2" r="5.2" fill="#000"/>
<circle cx="1399.7" cy="969.1" r="5.2" fill="#000"/>
<circle cx="1404.7" cy="975.0" r="5.2" fill="#000"/>
<circle cx="1406.6" cy="979.9" r="5.2" fill="#000"/>
<circle cx="1432.3" cy="899.5" r="5.2" fill="#f8201a"/>
<circle cx="1429.3" cy="915.8" r="5.2" fill="#f8201a"/>
<circle cx="1434.2" cy="920.7" r="5.2" fill="#f8201a"/>
<circle cx="1436.2" cy="922.6" r="5.2" fill="#f8201a"/>
<circle cx="1432.3" cy="946.4" r="5.2" fill="#f8201a"/>
<circle cx="1432.3" cy="967.1" r="5.2" fill="#f8201a"/>
<path d="M1404.3 885.2V868.9H1433.6V885.2" stroke="#000" stroke-width="2" fill="none"/>
<text x="1419.2" y="863.3" text-anchor="middle" style="font:bold 30px 'DejaVu Sans', sans-serif;letter-spacing:1.3px;stroke:#000;stroke-width:0.7px;stroke-linejoin:round">*</text>
<line x1="1417.7" y1="1094.1" x2="1417.7" y2="1103.7" stroke="#000" stroke-width="2"/>
<text x="1425.3" y="1126.4" text-anchor="end" transform="rotate(-45 1425.3 1126.4)" style="font:24.5px 'Liberation Sans', Arial, sans-serif">Sos2</text>
<path d="M1479.7 958.2V966.2M1474.7 958.2H1484.7M1474.7 966.2H1484.7" stroke="#000" stroke-width="2" fill="none"/>
<path d="M1508.1 904.8V933.8M1503.1 904.8H1513.1M1503.1 933.8H1513.1" stroke="#f8201a" stroke-width="2" fill="none"/>
<circle cx="1482.6" cy="950.3" r="5.2" fill="#000"/>
<circle cx="1476.6" cy="952.3" r="5.2" fill="#000"/>
<circle cx="1479.6" cy="957.2" r="5.2" fill="#000"/>
<circle cx="1474.7" cy="967.1" r="5.2" fill="#000"/>
<circle cx="1482.6" cy="973.0" r="5.2" fill="#000"/>
<circle cx="1481.6" cy="970.1" r="5.2" fill="#000"/>
<circle cx="1508.2" cy="866.8" r="5.2" fill="#f8201a"/>
<circle cx="1505.2" cy="899.9" r="5.2" fill="#f8201a"/>
<circle cx="1511.5" cy="914.7" r="5.2" fill="#f8201a"/>
<circle cx="1505.2" cy="926.6" r="5.2" fill="#f8201a"/>
<circle cx="1511.5" cy="934.5" r="5.2" fill="#f8201a"/>
<circle cx="1508.2" cy="967.5" r="5.2" fill="#f8201a"/>
<path d="M1478.6 857.6V841.4H1507.8V857.6" stroke="#000" stroke-width="2" fill="none"/>
<text x="1493.7" y="835.7" text-anchor="middle" style="font:bold 30px 'DejaVu Sans', sans-serif;letter-spacing:1.3px;stroke:#000;stroke-width:0.7px;stroke-linejoin:round">*</text>
<line x1="1493.9" y1="1094.1" x2="1493.9" y2="1103.7" stroke="#000" stroke-width="2"/>
<text x="1501.5" y="1126.4" text-anchor="end" transform="rotate(-45 1501.5 1126.4)" style="font:24.5px 'Liberation Sans', Arial, sans-serif">Slc16a2</text>
<path d="M1555.9 958.2V966.2M1550.9 958.2H1560.9M1550.9 966.2H1560.9" stroke="#000" stroke-width="2" fill="none"/>
<path d="M1584.3 933.6V945.4M1579.3 933.6H1589.3M1579.3 945.4H1589.3" stroke="#f8201a" stroke-width="2" fill="none"/>
<circle cx="1557.4" cy="948.4" r="5.2" fill="#000"/>
<circle cx="1554.8" cy="954.3" r="5.2" fill="#000"/>
<circle cx="1552.8" cy="963.1" r="5.2" fill="#000"/>
<circle cx="1555.8" cy="966.2" r="5.2" fill="#000"/>
<circle cx="1559.7" cy="972.0" r="5.2" fill="#000"/>
<circle cx="1558.7" cy="968.8" r="5.2" fill="#000"/>
<circle cx="1585.4" cy="923.3" r="5.2" fill="#f8201a"/>
<circle cx="1583.4" cy="934.5" r="5.2" fill="#f8201a"/>
<circle cx="1581.4" cy="938.5" r="5.2" fill="#f8201a"/>
<circle cx="1586.3" cy="940.4" r="5.2" fill="#f8201a"/>
<circle cx="1587.3" cy="951.3" r="5.2" fill="#f8201a"/>
<circle cx="1584.4" cy="935.8" r="5.2" fill="#f8201a"/>
<path d="M1556.8 899.0V883.3H1586.0V899.0" stroke="#000" stroke-width="2" fill="none"/>
<text x="1571.7" y="877.1" text-anchor="middle" style="font:bold 30px 'DejaVu Sans', sans-serif;letter-spacing:1.3px;stroke:#000;stroke-width:0.7px;stroke-linejoin:round">**</text>
<line x1="1570.1" y1="1094.1" x2="1570.1" y2="1103.7" stroke="#000" stroke-width="2"/>
<text x="1577.7" y="1126.4" text-anchor="end" transform="rotate(-45 1577.7 1126.4)" style="font:24.5px 'Liberation Sans', Arial, sans-serif">Ncoa6</text>
<path d="M1632.0 957.6V966.8M1627.0 957.6H1637.0M1627.0 966.8H1637.0" stroke="#000" stroke-width="2" fill="none"/>
<path d="M1660.4 907.2V941.5M1655.4 907.2H1665.4M1655.4 941.5H1665.4" stroke="#f8201a" stroke-width="2" fill="none"/>
<circle cx="1632.1" cy="944.8" r="5.2" fill="#000"/>
<circle cx="1629.7" cy="958.2" r="5.2" fill="#000"/>
<circle cx="1632.7" cy="963.1" r="5.2" fill="#000"/>
<circle cx="1634.7" cy="969.1" r="5.2" fill="#000"/>
<circle cx="1635.6" cy="974.1" r="5.2" fill="#000"/>
<circle cx="1632.0" cy="964.8" r="5.2" fill="#000"/>
<circle cx="1660.9" cy="864.5" r="5.2" fill="#f8201a"/>
<circle cx="1657.9" cy="894.1" r="5.2" fill="#f8201a"/>
<circle cx="1663.8" cy="908.9" r="5.2" fill="#f8201a"/>
<circle cx="1660.9" cy="946.4" r="5.2" fill="#f8201a"/>
<circle cx="1657.9" cy="957.6" r="5.2" fill="#f8201a"/>
<circle cx="1664.2" cy="970.6" r="5.2" fill="#f8201a"/>
<path d="M1631.1 847.8V831.4H1660.7V847.8" stroke="#000" stroke-width="2" fill="none"/>
<text x="1645.8" y="825.5" text-anchor="middle" style="font:bold 30px 'DejaVu Sans', sans-serif;letter-spacing:1.3px;stroke:#000;stroke-width:0.7px;stroke-linejoin:round">*</text>
<line x1="1646.2" y1="1094.1" x2="1646.2" y2="1103.7" stroke="#000" stroke-width="2"/>
<text x="1653.8" y="1126.4" text-anchor="end" transform="rotate(-45 1653.8 1126.4)" style="font:24.5px 'Liberation Sans', Arial, sans-serif">Raph1</text>
<path d="M1708.2 951.3V973.1M1703.2 951.3H1713.2M1703.2 973.1H1713.2" stroke="#000" stroke-width="2" fill="none"/>
<path d="M1736.6 900.3V915.4M1731.6 900.3H1741.6M1731.6 915.4H1741.6" stroke="#f8201a" stroke-width="2" fill="none"/>
<circle cx="1711.6" cy="923.7" r="5.2" fill="#000"/>
<circle cx="1705.3" cy="938.1" r="5.2" fill="#000"/>
<circle cx="1704.7" cy="963.1" r="5.2" fill="#000"/>
<circle cx="1711.6" cy="971.0" r="5.2" fill="#000"/>
<circle cx="1704.7" cy="984.8" r="5.2" fill="#000"/>
<circle cx="1711.6" cy="994.3" r="5.2" fill="#000"/>
<circle cx="1737.2" cy="870.4" r="5.2" fill="#f8201a"/>
<circle cx="1737.2" cy="895.7" r="5.2" fill="#f8201a"/>
<circle cx="1732.3" cy="913.8" r="5.2" fill="#f8201a"/>
<circle cx="1742.1" cy="914.7" r="5.2" fill="#f8201a"/>
<circle cx="1734.2" cy="920.7" r="5.2" fill="#f8201a"/>
<circle cx="1740.2" cy="931.2" r="5.2" fill="#f8201a"/>
<path d="M1707.2 861.6V845.3H1736.6V861.6" stroke="#000" stroke-width="2" fill="none"/>
<text x="1722.1" y="839.6" text-anchor="middle" style="font:bold 30px 'DejaVu Sans', sans-serif;letter-spacing:1.3px;stroke:#000;stroke-width:0.7px;stroke-linejoin:round">**</text>
<line x1="1722.4" y1="1094.1" x2="1722.4" y2="1103.7" stroke="#000" stroke-width="2"/>
<text x="1730.0" y="1126.4" text-anchor="end" transform="rotate(-45 1730.0 1126.4)" style="font:24.5px 'Liberation Sans', Arial, sans-serif">Fezf2</text>
<path d="M1784.4 955.6V968.8M1779.4 955.6H1789.4M1779.4 968.8H1789.4" stroke="#000" stroke-width="2" fill="none"/>
<path d="M1812.8 920.3V939.5M1807.8 920.3H1817.8M1807.8 939.5H1817.8" stroke="#f8201a" stroke-width="2" fill="none"/>
<circle cx="1784.8" cy="933.2" r="5.2" fill="#000"/>
<circle cx="1780.5" cy="954.5" r="5.2" fill="#000"/>
<circle cx="1785.8" cy="957.8" r="5.2" fill="#000"/>
<circle cx="1788.0" cy="967.5" r="5.2" fill="#000"/>
<circle cx="1783.7" cy="977.1" r="5.2" fill="#000"/>
<circle cx="1785.8" cy="984.6" r="5.2" fill="#000"/>
<circle cx="1813.3" cy="894.5" r="5.2" fill="#f8201a"/>
<circle cx="1809.4" cy="922.0" r="5.2" fill="#f8201a"/>
<circle cx="1813.7" cy="924.6" r="5.2" fill="#f8201a"/>
<circle cx="1817.0" cy="928.8" r="5.2" fill="#f8201a"/>
<circle cx="1811.6" cy="947.2" r="5.2" fill="#f8201a"/>
<circle cx="1814.8" cy="960.0" r="5.2" fill="#f8201a"/>
<path d="M1781.1 885.6V868.8H1810.5V885.6" stroke="#000" stroke-width="2" fill="none"/>
<text x="1796.2" y="863.0" text-anchor="middle" style="font:bold 30px 'DejaVu Sans', sans-serif;letter-spacing:1.3px;stroke:#000;stroke-width:0.7px;stroke-linejoin:round">*</text>
<line x1="1798.6" y1="1094.1" x2="1798.6" y2="1103.7" stroke="#000" stroke-width="2"/>
<text x="1806.2" y="1126.4" text-anchor="end" transform="rotate(-45 1806.2 1126.4)" style="font:24.5px 'Liberation Sans', Arial, sans-serif">Upf3b</text>
<path d="M1860.5 958.2V966.2M1855.5 958.2H1865.5M1855.5 966.2H1865.5" stroke="#000" stroke-width="2" fill="none"/>
<path d="M1888.9 980.4V994.1M1883.9 980.4H1893.9M1883.9 994.1H1893.9" stroke="#f8201a" stroke-width="2" fill="none"/>
<circle cx="1861.4" cy="946.6" r="5.2" fill="#000"/>
<circle cx="1859.9" cy="955.7" r="5.2" fill="#000"/>
<circle cx="1858.8" cy="963.3" r="5.2" fill="#000"/>
<circle cx="1861.0" cy="966.4" r="5.2" fill="#000"/>
<circle cx="1863.1" cy="969.6" r="5.2" fill="#000"/>
<circle cx="1864.2" cy="973.9" r="5.2" fill="#000"/>
<circle cx="1892.7" cy="967.5" r="5.2" fill="#f8201a"/>
<circle cx="1885.0" cy="975.7" r="5.2" fill="#f8201a"/>
<circle cx="1888.8" cy="981.5" r="5.2" fill="#f8201a"/>
<circle cx="1884.6" cy="993.2" r="5.2" fill="#f8201a"/>
<circle cx="1889.9" cy="996.4" r="5.2" fill="#f8201a"/>
<circle cx="1892.7" cy="1007.2" r="5.2" fill="#f8201a"/>
<path d="M1861.0 924.6V908.0H1890.3V924.6" stroke="#000" stroke-width="2" fill="none"/>
<text x="1875.6" y="902.7" text-anchor="middle" style="font:bold 30px 'DejaVu Sans', sans-serif;letter-spacing:1.3px;stroke:#000;stroke-width:0.7px;stroke-linejoin:round">**</text>
<line x1="1874.7" y1="1094.1" x2="1874.7" y2="1103.7" stroke="#000" stroke-width="2"/>
<text x="1882.3" y="1126.4" text-anchor="end" transform="rotate(-45 1882.3 1126.4)" style="font:24.5px 'Liberation Sans', Arial, sans-serif">Slc32a1</text>
<path d="M1936.7 951.4V973.0M1931.7 951.4H1941.7M1931.7 973.0H1941.7" stroke="#000" stroke-width="2" fill="none"/>
<path d="M1965.1 1009.9V1031.6M1960.1 1009.9H1970.1M1960.1 1031.6H1970.1" stroke="#f8201a" stroke-width="2" fill="none"/>
<circle cx="1939.9" cy="923.6" r="5.2" fill="#000"/>
<circle cx="1933.5" cy="934.9" r="5.2" fill="#000"/>
<circle cx="1933.9" cy="963.3" r="5.2" fill="#000"/>
<circle cx="1940.4" cy="973.9" r="5.2" fill="#000"/>
<circle cx="1933.9" cy="982.5" r="5.2" fill="#000"/>
<circle cx="1939.9" cy="995.4" r="5.2" fill="#000"/>
<circle cx="1965.7" cy="990.0" r="5.2" fill="#f8201a"/>
<circle cx="1962.9" cy="991.2" r="5.2" fill="#f8201a"/>
<circle cx="1966.1" cy="1021.2" r="5.2" fill="#f8201a"/>
<circle cx="1961.8" cy="1036.1" r="5.2" fill="#f8201a"/>
<circle cx="1968.3" cy="1042.7" r="5.2" fill="#f8201a"/>
<circle cx="1965.0" cy="1040.0" r="5.2" fill="#f8201a"/>
<path d="M1935.6 914.3V898.4H1965.5V914.3" stroke="#000" stroke-width="2" fill="none"/>
<text x="1951.4" y="891.9" text-anchor="middle" style="font:bold 30px 'DejaVu Sans', sans-serif;letter-spacing:1.3px;stroke:#000;stroke-width:0.7px;stroke-linejoin:round">**</text>
<line x1="1950.9" y1="1094.1" x2="1950.9" y2="1103.7" stroke="#000" stroke-width="2"/>
<text x="1958.5" y="1126.4" text-anchor="end" transform="rotate(-45 1958.5 1126.4)" style="font:24.5px 'Liberation Sans', Arial, sans-serif">Pdyn</text>
<path d="M927.6 764.2V1094.1H1989.7" stroke="#000" stroke-width="2" fill="none"/>
<line x1="919.0" y1="1094.1" x2="927.6" y2="1094.1" stroke="#000" stroke-width="2"/>
<text x="913.1" y="1102.7" text-anchor="end" style="font:25.2px 'Liberation Sans', Arial, sans-serif">0.0</text>
<line x1="919.0" y1="1028.1" x2="927.6" y2="1028.1" stroke="#000" stroke-width="2"/>
<text x="913.1" y="1036.7" text-anchor="end" style="font:25.2px 'Liberation Sans', Arial, sans-serif">0.5</text>
<line x1="919.0" y1="962.2" x2="927.6" y2="962.2" stroke="#000" stroke-width="2"/>
<text x="913.1" y="970.8" text-anchor="end" style="font:25.2px 'Liberation Sans', Arial, sans-serif">1.0</text>
<line x1="919.0" y1="896.2" x2="927.6" y2="896.2" stroke="#000" stroke-width="2"/>
<text x="913.1" y="904.8" text-anchor="end" style="font:25.2px 'Liberation Sans', Arial, sans-serif">1.5</text>
<line x1="919.0" y1="830.3" x2="927.6" y2="830.3" stroke="#000" stroke-width="2"/>
<text x="913.1" y="838.9" text-anchor="end" style="font:25.2px 'Liberation Sans', Arial, sans-serif">2.0</text>
<line x1="919.0" y1="764.3" x2="927.6" y2="764.3" stroke="#000" stroke-width="2"/>
<text x="913.1" y="772.9" text-anchor="end" style="font:25.2px 'Liberation Sans', Arial, sans-serif">2.5</text>
<text x="866.0" y="929.3" text-anchor="middle" textLength="250.0" lengthAdjust="spacingAndGlyphs" transform="rotate(-90 866.0 929.3)" style="font:27.8px 'Liberation Sans', Arial, sans-serif">Relative mRNA levels</text>
<circle cx="1871.7" cy="766.8" r="5.4" fill="#000"/>
<circle cx="1871.7" cy="811.9" r="5.4" fill="#f8201a"/>
<text x="1910" y="776" style="font:26px 'Liberation Sans', Arial, sans-serif">WT</text>
<text x="1910" y="821" style="font:26px 'Liberation Sans', Arial, sans-serif">Mu</text>
<path d="M941.2 1626.6V1496.1H961.8V1626.6" fill="#fff" stroke="#000" stroke-width="2"/>
<path d="M974.5 1626.6V1465.4H995.0V1626.6" fill="#fff" stroke="#f8201a" stroke-width="2"/>
<path d="M1029.8 1626.6V1496.1H1050.3V1626.6" fill="#fff" stroke="#000" stroke-width="2"/>
<path d="M1063.0 1626.6V1465.4H1083.5V1626.6" fill="#fff" stroke="#f8201a" stroke-width="2"/>
<path d="M1118.4 1626.6V1496.1H1138.9V1626.6" fill="#fff" stroke="#000" stroke-width="2"/>
<path d="M1151.6 1626.6V1580.0H1172.1V1626.6" fill="#fff" stroke="#f8201a" stroke-width="2"/>
<path d="M1207.0 1626.6V1496.1H1227.5V1626.6" fill="#fff" stroke="#000" stroke-width="2"/>
<path d="M1240.2 1626.6V1402.1H1260.7V1626.6" fill="#fff" stroke="#f8201a" stroke-width="2"/>
<path d="M1295.6 1626.6V1496.1H1316.1V1626.6" fill="#fff" stroke="#000" stroke-width="2"/>
<path d="M1328.8 1626.6V1542.6H1349.3V1626.6" fill="#fff" stroke="#f8201a" stroke-width="2"/>
<path d="M1384.2 1626.6V1496.1H1404.7V1626.6" fill="#fff" stroke="#000" stroke-width="2"/>
<path d="M1417.4 1626.6V1439.6H1437.9V1626.6" fill="#fff" stroke="#f8201a" stroke-width="2"/>
<path d="M1472.8 1626.6V1496.1H1493.3V1626.6" fill="#fff" stroke="#000" stroke-width="2"/>
<path d="M1506.0 1626.6V1460.3H1526.5V1626.6" fill="#fff" stroke="#f8201a" stroke-width="2"/>
<path d="M1561.4 1626.6V1496.1H1581.9V1626.6" fill="#fff" stroke="#000" stroke-width="2"/>
<path d="M1594.6 1626.6V1549.5H1615.1V1626.6" fill="#fff" stroke="#f8201a" stroke-width="2"/>
<line x1="929.4" y1="1496.1" x2="1630.0" y2="1496.1" stroke="#000" stroke-width="1.8" stroke-dasharray="4.5,3.8"/>
<path d="M951.5 1488.4V1503.8M946.5 1488.4H956.5M946.5 1503.8H956.5" stroke="#000" stroke-width="2" fill="none"/>
<path d="M984.7 1457.1V1473.8M979.7 1457.1H989.7M979.7 1473.8H989.7" stroke="#f8201a" stroke-width="2" fill="none"/>
<circle cx="952.1" cy="1462.2" r="5.2" fill="#000"/>
<circle cx="946.5" cy="1488.8" r="5.2" fill="#000"/>
<circle cx="952.8" cy="1495.1" r="5.2" fill="#000"/>
<circle cx="956.9" cy="1501.3" r="5.2" fill="#000"/>
<circle cx="949.0" cy="1508.6" r="5.2" fill="#000"/>
<circle cx="954.2" cy="1521.8" r="5.2" fill="#000"/>
<circle cx="985.1" cy="1432.4" r="5.2" fill="#f8201a"/>
<circle cx="982.6" cy="1455.8" r="5.2" fill="#f8201a"/>
<circle cx="979.5" cy="1471.0" r="5.2" fill="#f8201a"/>
<circle cx="986.2" cy="1469.0" r="5.2" fill="#f8201a"/>
<circle cx="985.1" cy="1470.0" r="5.2" fill="#f8201a"/>
<circle cx="989.9" cy="1486.7" r="5.2" fill="#f8201a"/>
<path d="M953.8 1424.1V1407.8H983.0V1424.1" stroke="#000" stroke-width="2" fill="none"/>
<text x="968.5" y="1402.1" text-anchor="middle" style="font:bold 30px 'DejaVu Sans', sans-serif;letter-spacing:1.3px;stroke:#000;stroke-width:0.7px;stroke-linejoin:round">*</text>
<line x1="968.1" y1="1626.6" x2="968.1" y2="1636.2" stroke="#000" stroke-width="2"/>
<text x="975.7" y="1660.0" text-anchor="end" transform="rotate(-45 975.7 1660.0)" style="font:24.5px 'Liberation Sans', Arial, sans-serif">Optn</text>
<path d="M1040.1 1488.8V1503.4M1035.1 1488.8H1045.1M1035.1 1503.4H1045.1" stroke="#000" stroke-width="2" fill="none"/>
<path d="M1073.3 1459.2V1471.7M1068.3 1459.2H1078.3M1068.3 1471.7H1078.3" stroke="#f8201a" stroke-width="2" fill="none"/>
<circle cx="1045.7" cy="1469.6" r="5.2" fill="#000"/>
<circle cx="1035.2" cy="1480.4" r="5.2" fill="#000"/>
<circle cx="1035.2" cy="1496.1" r="5.2" fill="#000"/>
<circle cx="1045.7" cy="1502.4" r="5.2" fill="#000"/>
<circle cx="1035.2" cy="1507.6" r="5.2" fill="#000"/>
<circle cx="1045.7" cy="1522.6" r="5.2" fill="#000"/>
<circle cx="1073.9" cy="1440.4" r="5.2" fill="#f8201a"/>
<circle cx="1068.6" cy="1459.2" r="5.2" fill="#f8201a"/>
<circle cx="1071.8" cy="1467.9" r="5.2" fill="#f8201a"/>
<circle cx="1080.1" cy="1469.0" r="5.2" fill="#f8201a"/>
<circle cx="1074.9" cy="1467.4" r="5.2" fill="#f8201a"/>
<circle cx="1075.9" cy="1484.2" r="5.2" fill="#f8201a"/>
<path d="M1043.6 1426.2V1410.5H1072.2V1426.2" stroke="#000" stroke-width="2" fill="none"/>
<text x="1057.9" y="1404.8" text-anchor="middle" style="font:bold 30px 'DejaVu Sans', sans-serif;letter-spacing:1.3px;stroke:#000;stroke-width:0.7px;stroke-linejoin:round">**</text>
<line x1="1056.7" y1="1626.6" x2="1056.7" y2="1636.2" stroke="#000" stroke-width="2"/>
<text x="1064.3" y="1660.0" text-anchor="end" transform="rotate(-45 1064.3 1660.0)" style="font:24.5px 'Liberation Sans', Arial, sans-serif">Rock1</text>
<path d="M1128.7 1485.4V1506.8M1123.7 1485.4H1133.7M1123.7 1506.8H1133.7" stroke="#000" stroke-width="2" fill="none"/>
<path d="M1161.9 1572.4V1587.6M1156.9 1572.4H1166.9M1156.9 1587.6H1166.9" stroke="#f8201a" stroke-width="2" fill="none"/>
<circle cx="1128.7" cy="1455.3" r="5.2" fill="#000"/>
<circle cx="1128.7" cy="1481.5" r="5.2" fill="#000"/>
<circle cx="1123.7" cy="1487.4" r="5.2" fill="#000"/>
<circle cx="1133.4" cy="1501.1" r="5.2" fill="#000"/>
<circle cx="1128.7" cy="1517.9" r="5.2" fill="#000"/>
<circle cx="1128.7" cy="1534.7" r="5.2" fill="#000"/>
<circle cx="1159.1" cy="1557.3" r="5.2" fill="#f8201a"/>
<circle cx="1164.0" cy="1556.4" r="5.2" fill="#f8201a"/>
<circle cx="1157.1" cy="1583.0" r="5.2" fill="#f8201a"/>
<circle cx="1163.0" cy="1582.2" r="5.2" fill="#f8201a"/>
<circle cx="1162.0" cy="1596.8" r="5.2" fill="#f8201a"/>
<circle cx="1166.9" cy="1598.7" r="5.2" fill="#f8201a"/>
<path d="M1127.0 1444.3V1428.6H1156.2V1444.3" stroke="#000" stroke-width="2" fill="none"/>
<text x="1142.1" y="1422.1" text-anchor="middle" style="font:bold 30px 'DejaVu Sans', sans-serif;letter-spacing:1.3px;stroke:#000;stroke-width:0.7px;stroke-linejoin:round">***</text>
<line x1="1145.3" y1="1626.6" x2="1145.3" y2="1636.2" stroke="#000" stroke-width="2"/>
<text x="1152.9" y="1660.0" text-anchor="end" transform="rotate(-45 1152.9 1660.0)" style="font:24.5px 'Liberation Sans', Arial, sans-serif">Cartpt</text>
<path d="M1217.3 1485.9V1506.3M1212.3 1485.9H1222.3M1212.3 1506.3H1222.3" stroke="#000" stroke-width="2" fill="none"/>
<path d="M1250.5 1393.3V1411.0M1245.5 1393.3H1255.5M1245.5 1411.0H1255.5" stroke="#f8201a" stroke-width="2" fill="none"/>
<circle cx="1217.7" cy="1456.8" r="5.2" fill="#000"/>
<circle cx="1217.7" cy="1484.4" r="5.2" fill="#000"/>
<circle cx="1212.4" cy="1495.2" r="5.2" fill="#000"/>
<circle cx="1218.3" cy="1496.1" r="5.2" fill="#000"/>
<circle cx="1223.3" cy="1502.1" r="5.2" fill="#000"/>
<circle cx="1217.7" cy="1539.9" r="5.2" fill="#000"/>
<circle cx="1250.9" cy="1374.9" r="5.2" fill="#f8201a"/>
<circle cx="1248.9" cy="1387.8" r="5.2" fill="#f8201a"/>
<circle cx="1253.8" cy="1389.7" r="5.2" fill="#f8201a"/>
<circle cx="1245.9" cy="1414.4" r="5.2" fill="#f8201a"/>
<circle cx="1250.9" cy="1417.3" r="5.2" fill="#f8201a"/>
<circle cx="1255.8" cy="1425.2" r="5.2" fill="#f8201a"/>
<path d="M1222.9 1359.6V1343.4H1252.2V1359.6" stroke="#000" stroke-width="2" fill="none"/>
<text x="1238.1" y="1337.9" text-anchor="middle" style="font:bold 30px 'DejaVu Sans', sans-serif;letter-spacing:1.3px;stroke:#000;stroke-width:0.7px;stroke-linejoin:round">***</text>
<line x1="1233.9" y1="1626.6" x2="1233.9" y2="1636.2" stroke="#000" stroke-width="2"/>
<text x="1241.5" y="1660.0" text-anchor="end" transform="rotate(-45 1241.5 1660.0)" style="font:24.5px 'Liberation Sans', Arial, sans-serif">Epgn</text>
<path d="M1305.9 1486.8V1505.4M1300.9 1486.8H1310.9M1300.9 1505.4H1310.9" stroke="#000" stroke-width="2" fill="none"/>
<path d="M1339.1 1534.7V1550.4M1334.1 1534.7H1344.1M1334.1 1550.4H1344.1" stroke="#f8201a" stroke-width="2" fill="none"/>
<circle cx="1306.1" cy="1458.6" r="5.2" fill="#000"/>
<circle cx="1306.1" cy="1481.0" r="5.2" fill="#000"/>
<circle cx="1300.2" cy="1500.1" r="5.2" fill="#000"/>
<circle cx="1304.1" cy="1496.1" r="5.2" fill="#000"/>
<circle cx="1305.1" cy="1511.0" r="5.2" fill="#000"/>
<circle cx="1311.0" cy="1514.9" r="5.2" fill="#000"/>
<circle cx="1344.1" cy="1515.3" r="5.2" fill="#f8201a"/>
<circle cx="1334.7" cy="1528.7" r="5.2" fill="#f8201a"/>
<circle cx="1334.7" cy="1541.6" r="5.2" fill="#f8201a"/>
<circle cx="1344.5" cy="1545.6" r="5.2" fill="#f8201a"/>
<circle cx="1333.7" cy="1553.4" r="5.2" fill="#f8201a"/>
<circle cx="1344.1" cy="1564.2" r="5.2" fill="#f8201a"/>
<path d="M1306.1 1447.6V1431.6H1335.0V1447.6" stroke="#000" stroke-width="2" fill="none"/>
<text x="1321.2" y="1426.0" text-anchor="middle" style="font:bold 30px 'DejaVu Sans', sans-serif;letter-spacing:1.3px;stroke:#000;stroke-width:0.7px;stroke-linejoin:round">**</text>
<line x1="1322.5" y1="1626.6" x2="1322.5" y2="1636.2" stroke="#000" stroke-width="2"/>
<text x="1330.1" y="1660.0" text-anchor="end" transform="rotate(-45 1330.1 1660.0)" style="font:24.5px 'Liberation Sans', Arial, sans-serif">C1qtnf2</text>
<path d="M1394.5 1490.4V1501.8M1389.5 1490.4H1399.5M1389.5 1501.8H1399.5" stroke="#000" stroke-width="2" fill="none"/>
<path d="M1427.7 1426.5V1452.6M1422.7 1426.5H1432.7M1422.7 1452.6H1432.7" stroke="#f8201a" stroke-width="2" fill="none"/>
<circle cx="1396.6" cy="1479.5" r="5.2" fill="#000"/>
<circle cx="1391.7" cy="1482.4" r="5.2" fill="#000"/>
<circle cx="1388.7" cy="1491.3" r="5.2" fill="#000"/>
<circle cx="1395.6" cy="1496.1" r="5.2" fill="#000"/>
<circle cx="1399.6" cy="1505.1" r="5.2" fill="#000"/>
<circle cx="1394.7" cy="1520.9" r="5.2" fill="#000"/>
<circle cx="1427.8" cy="1404.5" r="5.2" fill="#f8201a"/>
<circle cx="1422.8" cy="1416.4" r="5.2" fill="#f8201a"/>
<circle cx="1432.7" cy="1423.3" r="5.2" fill="#f8201a"/>
<circle cx="1422.8" cy="1449.9" r="5.2" fill="#f8201a"/>
<circle cx="1432.7" cy="1458.6" r="5.2" fill="#f8201a"/>
<circle cx="1427.8" cy="1480.4" r="5.2" fill="#f8201a"/>
<path d="M1396.6 1392.4V1376.6H1425.8V1392.4" stroke="#000" stroke-width="2" fill="none"/>
<text x="1411.7" y="1370.8" text-anchor="middle" style="font:bold 30px 'DejaVu Sans', sans-serif;letter-spacing:1.3px;stroke:#000;stroke-width:0.7px;stroke-linejoin:round">**</text>
<line x1="1411.1" y1="1626.6" x2="1411.1" y2="1636.2" stroke="#000" stroke-width="2"/>
<text x="1418.7" y="1660.0" text-anchor="end" transform="rotate(-45 1418.7 1660.0)" style="font:24.5px 'Liberation Sans', Arial, sans-serif">Gng5</text>
<path d="M1483.0 1489.8V1502.4M1478.0 1489.8H1488.0M1478.0 1502.4H1488.0" stroke="#000" stroke-width="2" fill="none"/>
<path d="M1516.2 1450.6V1470.1M1511.2 1450.6H1521.2M1511.2 1470.1H1521.2" stroke="#f8201a" stroke-width="2" fill="none"/>
<circle cx="1487.9" cy="1472.9" r="5.2" fill="#000"/>
<circle cx="1478.1" cy="1482.4" r="5.2" fill="#000"/>
<circle cx="1478.1" cy="1498.2" r="5.2" fill="#000"/>
<circle cx="1488.3" cy="1502.1" r="5.2" fill="#000"/>
<circle cx="1478.1" cy="1505.2" r="5.2" fill="#000"/>
<circle cx="1487.9" cy="1517.9" r="5.2" fill="#000"/>
<circle cx="1516.3" cy="1431.8" r="5.2" fill="#f8201a"/>
<circle cx="1511.6" cy="1440.6" r="5.2" fill="#f8201a"/>
<circle cx="1516.3" cy="1450.3" r="5.2" fill="#f8201a"/>
<circle cx="1521.4" cy="1453.4" r="5.2" fill="#f8201a"/>
<circle cx="1516.3" cy="1478.1" r="5.2" fill="#f8201a"/>
<circle cx="1516.3" cy="1503.7" r="5.2" fill="#f8201a"/>
<path d="M1488.3 1422.8V1407.0H1517.5V1422.8" stroke="#000" stroke-width="2" fill="none"/>
<text x="1503.2" y="1401.4" text-anchor="middle" style="font:bold 30px 'DejaVu Sans', sans-serif;letter-spacing:1.3px;stroke:#000;stroke-width:0.7px;stroke-linejoin:round">*</text>
<line x1="1499.6" y1="1626.6" x2="1499.6" y2="1636.2" stroke="#000" stroke-width="2"/>
<text x="1507.2" y="1660.0" text-anchor="end" transform="rotate(-45 1507.2 1660.0)" style="font:24.5px 'Liberation Sans', Arial, sans-serif">Slc7a11</text>
<path d="M1571.6 1486.4V1505.8M1566.6 1486.4H1576.6M1566.6 1505.8H1576.6" stroke="#000" stroke-width="2" fill="none"/>
<path d="M1604.8 1544.3V1554.7M1599.8 1544.3H1609.8M1599.8 1554.7H1609.8" stroke="#f8201a" stroke-width="2" fill="none"/>
<circle cx="1571.5" cy="1456.4" r="5.2" fill="#000"/>
<circle cx="1571.5" cy="1481.4" r="5.2" fill="#000"/>
<circle cx="1566.2" cy="1500.1" r="5.2" fill="#000"/>
<circle cx="1577.1" cy="1502.6" r="5.2" fill="#000"/>
<circle cx="1566.8" cy="1516.8" r="5.2" fill="#000"/>
<circle cx="1576.1" cy="1521.8" r="5.2" fill="#000"/>
<circle cx="1609.6" cy="1536.2" r="5.2" fill="#f8201a"/>
<circle cx="1600.7" cy="1542.6" r="5.2" fill="#f8201a"/>
<circle cx="1605.7" cy="1545.7" r="5.2" fill="#f8201a"/>
<circle cx="1603.7" cy="1551.4" r="5.2" fill="#f8201a"/>
<circle cx="1608.6" cy="1548.3" r="5.2" fill="#f8201a"/>
<circle cx="1606.6" cy="1565.8" r="5.2" fill="#f8201a"/>
<path d="M1570.2 1444.0V1428.2H1599.2V1444.0" stroke="#000" stroke-width="2" fill="none"/>
<text x="1585.1" y="1422.1" text-anchor="middle" style="font:bold 30px 'DejaVu Sans', sans-serif;letter-spacing:1.3px;stroke:#000;stroke-width:0.7px;stroke-linejoin:round">***</text>
<line x1="1588.2" y1="1626.6" x2="1588.2" y2="1636.2" stroke="#000" stroke-width="2"/>
<text x="1595.8" y="1660.0" text-anchor="end" transform="rotate(-45 1595.8 1660.0)" style="font:24.5px 'Liberation Sans', Arial, sans-serif">LHX3</text>
<path d="M929.4 1300.3V1626.6H1630.3" stroke="#000" stroke-width="2" fill="none"/>
<line x1="920.8" y1="1626.6" x2="929.4" y2="1626.6" stroke="#000" stroke-width="2"/>
<text x="915.2" y="1634.8" text-anchor="end" style="font:25.2px 'Liberation Sans', Arial, sans-serif">0.0</text>
<line x1="920.8" y1="1561.3" x2="929.4" y2="1561.3" stroke="#000" stroke-width="2"/>
<text x="915.2" y="1569.5" text-anchor="end" style="font:25.2px 'Liberation Sans', Arial, sans-serif">0.5</text>
<line x1="920.8" y1="1496.1" x2="929.4" y2="1496.1" stroke="#000" stroke-width="2"/>
<text x="915.2" y="1504.3" text-anchor="end" style="font:25.2px 'Liberation Sans', Arial, sans-serif">1.0</text>
<line x1="920.8" y1="1430.8" x2="929.4" y2="1430.8" stroke="#000" stroke-width="2"/>
<text x="915.2" y="1439.0" text-anchor="end" style="font:25.2px 'Liberation Sans', Arial, sans-serif">1.5</text>
<line x1="920.8" y1="1365.6" x2="929.4" y2="1365.6" stroke="#000" stroke-width="2"/>
<text x="915.2" y="1373.8" text-anchor="end" style="font:25.2px 'Liberation Sans', Arial, sans-serif">2.0</text>
<line x1="920.8" y1="1300.3" x2="929.4" y2="1300.3" stroke="#000" stroke-width="2"/>
<text x="915.2" y="1308.5" text-anchor="end" style="font:25.2px 'Liberation Sans', Arial, sans-serif">2.5</text>
<text x="868.5" y="1463.8" text-anchor="middle" textLength="246.3" lengthAdjust="spacingAndGlyphs" transform="rotate(-90 868.5 1463.8)" style="font:27.8px 'Liberation Sans', Arial, sans-serif">Relative mRNA levels</text>
</svg></body></html>
